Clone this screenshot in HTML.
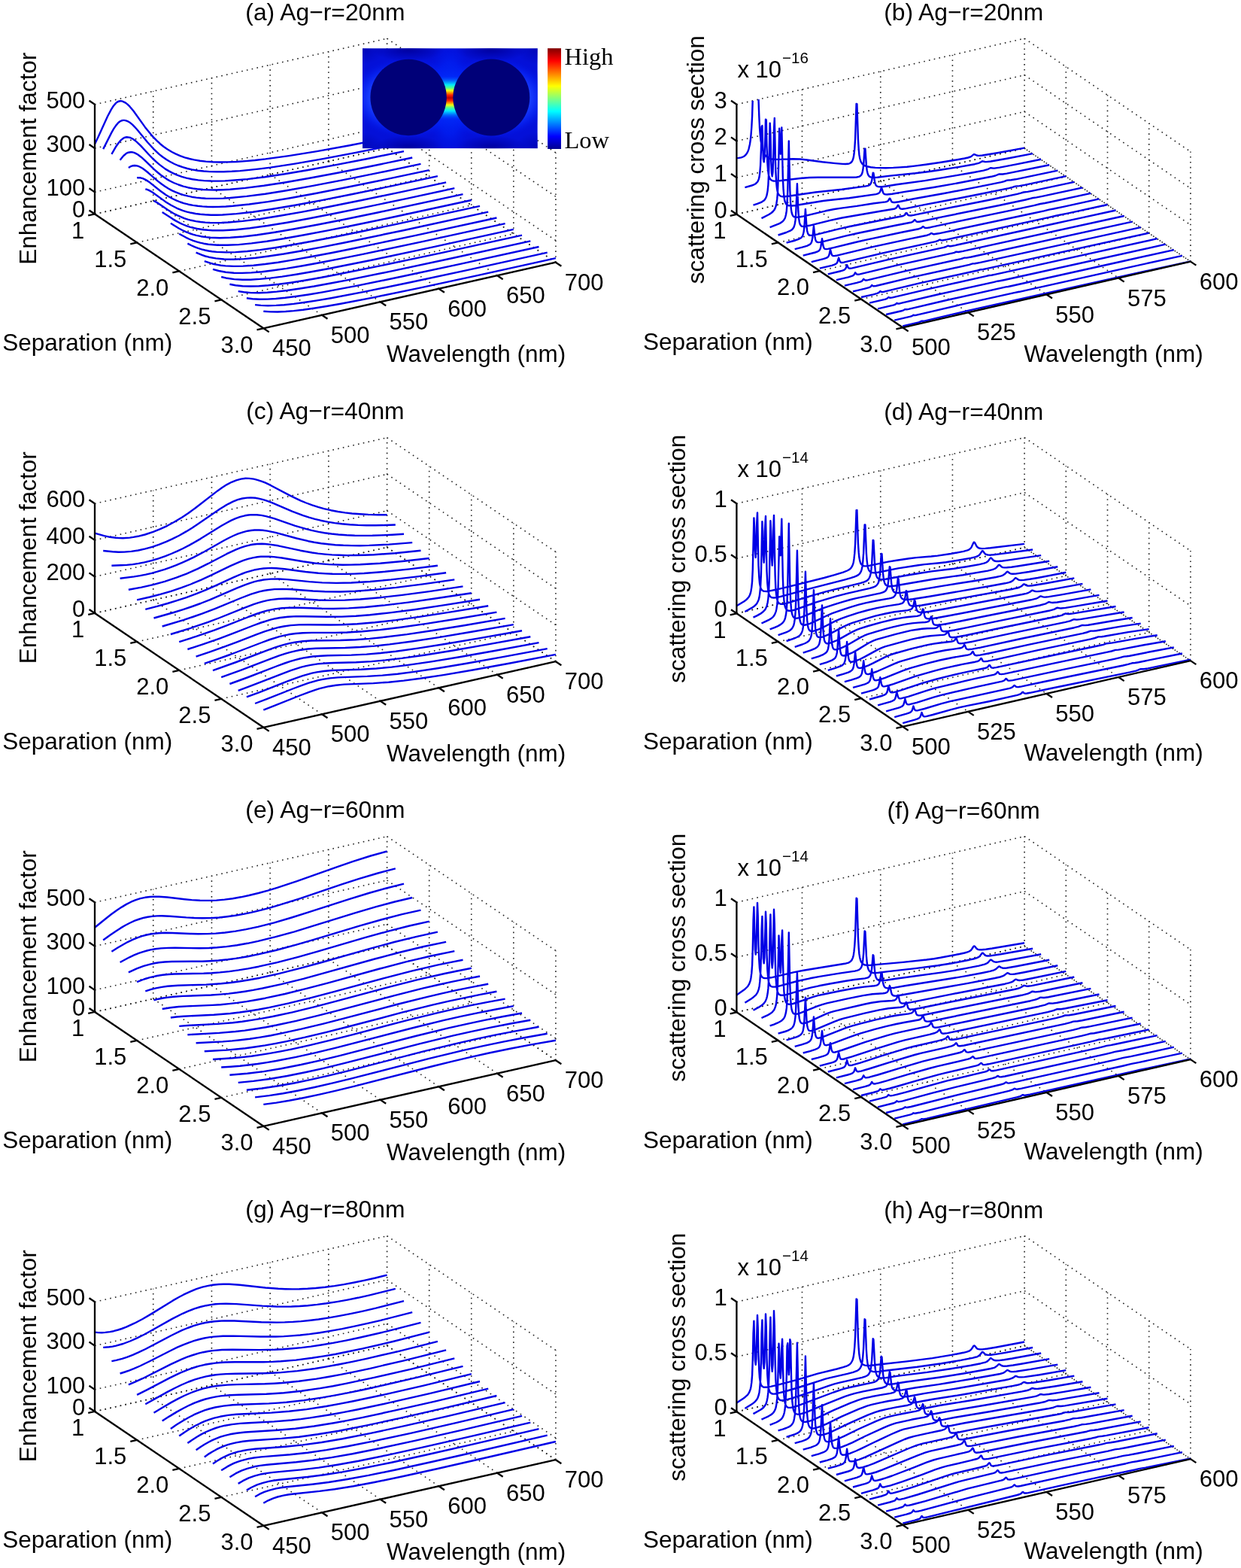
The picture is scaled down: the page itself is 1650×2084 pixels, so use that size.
<!DOCTYPE html><html><head><meta charset="utf-8"><title>Ag dimer spectra</title><style>html,body{margin:0;padding:0;background:#fff}svg{display:block}</style></head><body><svg xmlns="http://www.w3.org/2000/svg" width="1650" height="2084" viewBox="0 0 1650 2084">
<style>text{font-family:'Liberation Sans', Arial, Helvetica, sans-serif;fill:#000}.g{stroke:#222;stroke-width:1.6;stroke-dasharray:1.6 5.3;fill:none}.c{stroke:#0000e6;stroke-width:2.4;fill:none;stroke-linejoin:round;stroke-linecap:butt}</style>
<rect width="1650" height="2084" fill="#fff"/>
<line x1="203.72" y1="266.98" x2="203.72" y2="121.28" class="g"/>
<line x1="281.44" y1="249.46" x2="281.44" y2="103.76" class="g"/>
<line x1="359.16" y1="231.94" x2="359.16" y2="86.24" class="g"/>
<line x1="436.88" y1="214.42" x2="436.88" y2="68.72" class="g"/>
<line x1="514.6" y1="196.9" x2="514.6" y2="51.2" class="g"/>
<line x1="126" y1="284.5" x2="514.6" y2="196.9" class="g"/>
<line x1="126" y1="255.36" x2="514.6" y2="167.76" class="g"/>
<line x1="126" y1="197.08" x2="514.6" y2="109.48" class="g"/>
<line x1="126" y1="138.8" x2="514.6" y2="51.2" class="g"/>
<line x1="570.68" y1="234.85" x2="570.68" y2="89.15" class="g"/>
<line x1="626.75" y1="272.8" x2="626.75" y2="127.1" class="g"/>
<line x1="682.83" y1="310.75" x2="682.83" y2="165.05" class="g"/>
<line x1="738.9" y1="348.7" x2="738.9" y2="203" class="g"/>
<line x1="514.6" y1="196.9" x2="738.9" y2="348.7" class="g"/>
<line x1="514.6" y1="167.76" x2="738.9" y2="319.56" class="g"/>
<line x1="514.6" y1="109.48" x2="738.9" y2="261.28" class="g"/>
<line x1="514.6" y1="51.2" x2="738.9" y2="203" class="g"/>
<line x1="126" y1="284.5" x2="350.3" y2="436.3" class="g"/>
<line x1="203.72" y1="266.98" x2="428.02" y2="418.78" class="g"/>
<line x1="281.44" y1="249.46" x2="505.74" y2="401.26" class="g"/>
<line x1="359.16" y1="231.94" x2="583.46" y2="383.74" class="g"/>
<line x1="436.88" y1="214.42" x2="661.18" y2="366.22" class="g"/>
<line x1="738.9" y1="348.7" x2="514.6" y2="196.9" class="g"/>
<line x1="126" y1="284.5" x2="514.6" y2="196.9" class="g"/>
<line x1="182.07" y1="322.45" x2="570.68" y2="234.85" class="g"/>
<line x1="238.15" y1="360.4" x2="626.75" y2="272.8" class="g"/>
<line x1="294.23" y1="398.35" x2="682.83" y2="310.75" class="g"/>
<line x1="350.3" y1="436.3" x2="738.9" y2="348.7" class="g"/>
<path d="M126 191.5l4.7-9.7 12.4-27.3 4.7-8.9 3.1-4.9 3.1-3.6 1.5-1.2 1.6-0.9 1.5-0.5 1.6-0.2 1.6 0.1 1.5 0.4 3.1 1.5 3.1 2.3 3.1 3.1 4.7 5.6 15.5 21.6 7.8 9.7 3.1 3.5 4.7 4.8 4.6 4.3 4.7 3.8 4.7 3.3 6.2 3.7 4.7 2.4 6.2 2.7 6.2 2.2 6.2 1.7 6.2 1.4 7.8 1.3 7.8 0.9 9.3 0.7 9.3 0.2 10.9-0.1 10.9-0.4 12.4-0.9 12.5-1.1 13.9-1.6 31.1-4.3 37.3-6 43.6-7.9 49.7-9.7 M137.2 198.1l10.9-21.5 3.1-5.4 3.1-4.6 3.1-3.6 1.6-1.3 1.5-0.9 1.6-0.6 1.5-0.3 1.6 0 1.5 0.2 3.2 1.1 3.1 1.9 3.1 2.6 3.1 3.1 3.1 3.5 14 17 7.8 8.5 7.7 7.3 4.7 3.7 4.7 3.2 4.6 2.8 6.2 3.2 4.7 2 6.2 2.2 6.2 1.8 6.2 1.4 7.8 1.3 7.8 0.8 7.8 0.6 9.3 0.2 9.3-0.1 10.9-0.4 10.9-0.7 12.4-1.2 14-1.5 14-1.8 32.6-5 37.3-6.5 43.6-8.2 52.8-10.5 M148.4 204.8l6.2-10.6 3.2-4.5 3.1-3.6 3.1-2.4 1.5-0.8 1.6-0.4 1.5-0.2 3.1 0.3 1.6 0.4 3.1 1.5 3.1 2.2 3.1 2.6 4.7 4.6 10.9 11.8 4.6 4.8 4.7 4.4 4.7 4 7.7 5.7 4.7 2.8 4.7 2.5 6.2 2.7 6.2 2.2 6.2 1.8 7.8 1.6 7.8 1.2 7.7 0.7 9.4 0.4 9.3 0.1 9.3-0.2 9.3-0.6 20.2-1.7 23.4-2.9 26.4-3.9 31.1-5.3 35.7-6.6 42-8.2 49.7-10.1 M159.6 212.8l3.2-4.1 1.5-1.7 3.1-2.7 1.6-1 1.5-0.6 3.1-0.5 1.6 0 3.1 0.7 1.6 0.7 3.1 1.7 4.6 3.4 4.7 4.2 12.4 12 4.7 4.1 4.6 3.8 7.8 5.3 4.7 2.6 4.6 2.3 6.3 2.5 6.2 2.1 6.2 1.6 6.2 1.2 6.2 0.9 7.8 0.7 7.8 0.4 9.3 0.1 9.3-0.3 9.4-0.5 20.2-1.8 24.8-3.1 28-4.3 32.7-5.7 38.8-7.3 45.1-9 52.8-11 M170.9 223.1l3.1-2 1.5-0.6 3.1-0.5 3.1 0.3 1.6 0.4 3.1 1.3 3.1 1.8 3.1 2.2 4.7 3.8 12.4 10.8 4.7 3.7 4.6 3.3 4.7 2.9 4.7 2.6 4.6 2.1 6.3 2.5 4.6 1.4 6.2 1.6 4.7 1 6.2 0.9 6.2 0.7 6.3 0.4 13.9 0.2 9.4-0.3 9.3-0.6 21.8-2.1 24.8-3.2 28-4.5 34.2-6.1 40.4-7.7 48.2-9.8 56-11.7 M182.1 236.3l1.5-0.2 3.1 0.2 3.1 0.9 3.2 1.4 3.1 1.8 3.1 2.2 14 11.1 7.7 5.5 4.7 2.8 4.7 2.5 4.6 2.2 4.7 1.8 4.7 1.6 6.2 1.6 6.2 1.2 6.2 0.9 6.2 0.6 6.2 0.4 7.8 0.2 7.8-0.1 9.3-0.4 9.3-0.7 21.8-2.3 24.9-3.4 29.5-4.9 34.2-6.2 42-8.2 49.7-10.2 59.1-12.5 M193.3 251.3l1.5 0.4 3.2 1.2 4.6 2.6 17.1 12.4 7.8 4.9 7.8 4 7.7 3.1 4.7 1.4 6.2 1.5 6.2 1.2 6.2 0.8 6.3 0.5 7.7 0.4 7.8 0 7.8-0.2 18.6-1.4 21.8-2.4 26.4-3.9 29.6-5 35.7-6.7 42-8.3 51.3-10.7 60.6-12.9 M204.5 266.8l6.2 3.6 12.5 8.5 7.7 4.8 4.7 2.4 4.7 2.1 4.6 1.9 4.7 1.5 4.6 1.2 6.3 1.3 6.2 0.9 6.2 0.6 6.2 0.4 7.8 0.1 7.8-0.1 9.3-0.5 18.6-1.6 23.4-2.9 26.4-4.2 29.5-5.2 35.8-6.8 43.5-8.8 51.3-10.7 60.6-13 M215.7 282.1l14 9 4.7 2.8 4.6 2.4 4.7 2.2 4.7 1.8 4.6 1.5 4.7 1.2 6.2 1.3 6.2 0.9 6.2 0.6 6.3 0.4 13.9 0 17.1-1 18.7-2 23.3-3.2 26.4-4.3 29.6-5.4 35.7-7 43.5-8.9 51.3-10.8 62.2-13.4 M226.9 296.8l10.9 6.7 4.7 2.5 4.6 2.1 4.7 1.9 4.7 1.6 4.6 1.2 6.2 1.4 6.3 0.9 6.2 0.6 12.4 0.5 14-0.4 17.1-1.3 18.7-2.2 23.3-3.5 26.4-4.5 31.1-5.8 35.7-7 43.6-9 113.4-24.3 M238.2 310.7l9.3 5.1 4.6 2.2 4.7 1.8 4.7 1.6 4.6 1.3 4.7 1 6.2 1 6.2 0.6 6.2 0.4 12.5 0.1 15.5-0.7 17.1-1.7 20.2-2.7 23.3-3.7 26.5-4.7 31.1-5.9 35.7-7.2 43.5-9 112-24.2 M249.4 323.6l4.6 2.4 4.7 2.1 4.7 1.7 4.6 1.5 4.7 1.2 4.6 1 4.7 0.7 6.2 0.7 12.5 0.5 12.4-0.3 15.5-1.1 17.1-1.9 20.2-2.9 23.4-3.9 26.4-4.8 31.1-6 35.7-7.3 43.5-9.1 112-24.2 M260.6 335.7l7.8 3.2 4.6 1.6 4.7 1.2 9.3 1.7 10.9 1.1 12.4 0.2 14-0.6 15.6-1.4 17.1-2.2 20.2-3 23.3-4 26.4-4.9 31.1-6.1 79.3-16.5 111.9-24.3 M271.8 347.1l7.8 2.6 4.6 1.3 4.7 0.9 4.7 0.8 6.2 0.7 10.9 0.5 12.4-0.3 14-0.9 15.5-1.7 17.1-2.3 20.2-3.3 23.3-4.1 28-5.3 31.1-6.2 79.3-16.7 108.8-23.6 M283 357.8l7.8 2.2 9.3 1.7 10.9 1 10.9 0.2 12.4-0.5 14-1.2 15.5-1.9 17.1-2.4 20.2-3.4 23.4-4.2 27.9-5.4 31.1-6.3 79.3-16.7 108.8-23.7 M294.2 368l7.8 1.8 9.3 1.3 10.9 0.6 10.9 0 12.4-0.8 14-1.3 15.6-2 18.6-2.9 20.2-3.4 23.3-4.3 59.1-11.8 79.3-16.8 107.2-23.5 M305.4 377.7l7.8 1.5 9.3 1 10.9 0.3 10.9-0.3 12.4-0.9 14-1.5 15.6-2.1 18.6-2.9 20.2-3.6 23.3-4.4 59.1-11.9 79.3-16.8 107.2-23.5 M316.7 387.1l7.7 1.2 9.4 0.8 10.8 0.1 10.9-0.5 12.5-1.1 13.9-1.6 17.1-2.5 18.7-3 21.8-4 23.3-4.4 59-12 77.8-16.6 105.7-23.2 M327.9 396.3l7.7 0.9 9.4 0.5 10.8-0.1 10.9-0.6 12.5-1.2 15.5-2 15.6-2.3 18.6-3.1 45.1-8.5 59.1-12.1 77.7-16.6 105.7-23.2 M339.1 405.1l7.8 0.8 9.3 0.3 10.9-0.3 10.8-0.7 12.5-1.3 15.5-2.1 15.6-2.4 18.6-3.2 45.1-8.6 59.1-12.1 77.7-16.7 105.7-23.2 M350.3 413.8l9.3 0.6 9.4 0.1 10.8-0.5 10.9-0.9 12.4-1.4 15.6-2.2 15.5-2.5 18.7-3.3 45.1-8.6 59-12.3 77.8-16.7 104.1-22.9" class="c"/>
<line x1="126" y1="284.5" x2="126" y2="138.8" stroke="#000" stroke-width="2.3" />
<line x1="126" y1="284.5" x2="350.3" y2="436.3" stroke="#000" stroke-width="2.3" />
<line x1="350.3" y1="436.3" x2="738.9" y2="348.7" stroke="#000" stroke-width="2.3" />
<line x1="126" y1="284.5" x2="118.55" y2="279.46" stroke="#000" stroke-width="2.3" />
<text x="113.3" y="289.4" text-anchor="end" font-size="31" >0</text>
<line x1="126" y1="255.36" x2="118.55" y2="250.32" stroke="#000" stroke-width="2.3" />
<text x="113.3" y="260.26" text-anchor="end" font-size="31" >100</text>
<line x1="126" y1="197.08" x2="118.55" y2="192.04" stroke="#000" stroke-width="2.3" />
<text x="113.3" y="201.98" text-anchor="end" font-size="31" >300</text>
<line x1="126" y1="138.8" x2="118.55" y2="133.76" stroke="#000" stroke-width="2.3" />
<text x="113.3" y="143.7" text-anchor="end" font-size="31" >500</text>
<line x1="126" y1="284.5" x2="117.22" y2="286.48" stroke="#000" stroke-width="2.3" />
<text x="112.2" y="316.8" text-anchor="end" font-size="31" >1</text>
<line x1="182.07" y1="322.45" x2="173.3" y2="324.43" stroke="#000" stroke-width="2.3" />
<text x="168.27" y="354.75" text-anchor="end" font-size="31" >1.5</text>
<line x1="238.15" y1="360.4" x2="229.37" y2="362.38" stroke="#000" stroke-width="2.3" />
<text x="224.35" y="392.7" text-anchor="end" font-size="31" >2.0</text>
<line x1="294.23" y1="398.35" x2="285.45" y2="400.33" stroke="#000" stroke-width="2.3" />
<text x="280.43" y="430.65" text-anchor="end" font-size="31" >2.5</text>
<line x1="350.3" y1="436.3" x2="341.52" y2="438.28" stroke="#000" stroke-width="2.3" />
<text x="336.5" y="468.6" text-anchor="end" font-size="31" >3.0</text>
<line x1="350.3" y1="436.3" x2="357.75" y2="441.34" stroke="#000" stroke-width="2.3" />
<text x="362.1" y="473.4" text-anchor="start" font-size="31" >450</text>
<line x1="428.02" y1="418.78" x2="435.47" y2="423.82" stroke="#000" stroke-width="2.3" />
<text x="439.82" y="455.88" text-anchor="start" font-size="31" >500</text>
<line x1="505.74" y1="401.26" x2="513.19" y2="406.3" stroke="#000" stroke-width="2.3" />
<text x="517.54" y="438.36" text-anchor="start" font-size="31" >550</text>
<line x1="583.46" y1="383.74" x2="590.91" y2="388.78" stroke="#000" stroke-width="2.3" />
<text x="595.26" y="420.84" text-anchor="start" font-size="31" >600</text>
<line x1="661.18" y1="366.22" x2="668.63" y2="371.26" stroke="#000" stroke-width="2.3" />
<text x="672.98" y="403.32" text-anchor="start" font-size="31" >650</text>
<line x1="738.9" y1="348.7" x2="746.35" y2="353.74" stroke="#000" stroke-width="2.3" />
<text x="750.7" y="385.8" text-anchor="start" font-size="31" >700</text>
<text x="432.4" y="26.8" text-anchor="middle" font-size="31.8" >(a) Ag−r=20nm</text>
<text x="514" y="481.1" text-anchor="start" font-size="31.45" >Wavelength (nm)</text>
<text x="3.3" y="465.5" text-anchor="start" font-size="31.5" >Separation (nm)</text>
<text x="0" y="0" text-anchor="middle" font-size="31.5" transform="translate(47.6,210.8) rotate(-90)">Enhancement factor</text>
<defs><clipPath id="insclip"><rect x="482" y="64.2" width="232.8" height="133.1"/></clipPath><linearGradient id="hotv" x1="0" y1="0" x2="0" y2="1"><stop offset="0.26" stop-color="#0040ff" stop-opacity="0"/><stop offset="0.31" stop-color="#0070ff" stop-opacity="0.9"/><stop offset="0.355" stop-color="#00e8ff"/><stop offset="0.39" stop-color="#50ff90"/><stop offset="0.42" stop-color="#f0ff10"/><stop offset="0.445" stop-color="#ff9000"/><stop offset="0.47" stop-color="#ff2000"/><stop offset="0.5" stop-color="#b80000"/><stop offset="0.53" stop-color="#ff2000"/><stop offset="0.555" stop-color="#ff9000"/><stop offset="0.58" stop-color="#f0ff10"/><stop offset="0.61" stop-color="#50ff90"/><stop offset="0.645" stop-color="#00e8ff"/><stop offset="0.69" stop-color="#0070ff" stop-opacity="0.9"/><stop offset="0.74" stop-color="#0040ff" stop-opacity="0"/></linearGradient><radialGradient id="fan" cx="0.5" cy="0.5" r="0.5"><stop offset="0" stop-color="#0038ff"/><stop offset="0.6" stop-color="#0020f4" stop-opacity="0.7"/><stop offset="1" stop-color="#0010e0" stop-opacity="0"/></radialGradient><radialGradient id="halo" cx="0.5" cy="0.5" r="0.5"><stop offset="0.62" stop-color="#1a40ff"/><stop offset="0.8" stop-color="#0828f8" stop-opacity="0.6"/><stop offset="1" stop-color="#0010e0" stop-opacity="0"/></radialGradient><radialGradient id="dark" cx="0.5" cy="0.5" r="0.5"><stop offset="0" stop-color="#0000a0"/><stop offset="1" stop-color="#0000a0" stop-opacity="0"/></radialGradient><linearGradient id="jet" x1="0" y1="1" x2="0" y2="0"><stop offset="0" stop-color="#00008f"/><stop offset="0.125" stop-color="#0000ff"/><stop offset="0.375" stop-color="#00ffff"/><stop offset="0.625" stop-color="#ffff00"/><stop offset="0.875" stop-color="#ff0000"/><stop offset="1" stop-color="#800000"/></linearGradient></defs>
<g clip-path="url(#insclip)">
<rect x="482" y="64.2" width="232.8" height="133.1" fill="#0410d8"/>
<ellipse cx="543.1" cy="130.0" rx="82" ry="55" fill="url(#halo)"/>
<ellipse cx="543.1" cy="66" rx="48" ry="16" fill="url(#dark)"/>
<ellipse cx="543.1" cy="196" rx="48" ry="16" fill="url(#dark)"/>
<ellipse cx="653.3" cy="130.0" rx="82" ry="55" fill="url(#halo)"/>
<ellipse cx="653.3" cy="66" rx="48" ry="16" fill="url(#dark)"/>
<ellipse cx="653.3" cy="196" rx="48" ry="16" fill="url(#dark)"/>
<ellipse cx="482" cy="64" rx="30" ry="22" fill="url(#dark)" opacity="0.6"/>
<ellipse cx="714.8" cy="64" rx="30" ry="22" fill="url(#dark)" opacity="0.6"/>
<ellipse cx="482" cy="197.3" rx="30" ry="22" fill="url(#dark)" opacity="0.6"/>
<ellipse cx="714.8" cy="197.3" rx="30" ry="22" fill="url(#dark)" opacity="0.6"/>
<ellipse cx="598.0" cy="130.0" rx="34" ry="80" fill="url(#fan)"/>
<rect x="578" y="70.0" width="40" height="120" fill="url(#hotv)"/>
<circle cx="543.1" cy="129.5" r="50.7" fill="#000078"/>
<circle cx="653.3" cy="129.5" r="51" fill="#000078"/>
</g>
<rect x="728.1" y="64.2" width="17.9" height="133.8" fill="url(#jet)"/>
<text x="750.5" y="86" style="font-family:'Liberation Serif', 'Times New Roman', serif" font-size="32.5">High</text>
<text x="750.5" y="196.6" style="font-family:'Liberation Serif', 'Times New Roman', serif" font-size="32.5">Low</text>
<line x1="1066.46" y1="264.85" x2="1066.46" y2="118.85" class="g"/>
<line x1="1170.75" y1="240.95" x2="1170.75" y2="94.95" class="g"/>
<line x1="1266.42" y1="219.03" x2="1266.42" y2="73.03" class="g"/>
<line x1="1362.1" y1="197.1" x2="1362.1" y2="51.1" class="g"/>
<line x1="979.4" y1="284.8" x2="1362.1" y2="197.1" class="g"/>
<line x1="979.4" y1="236.13" x2="1362.1" y2="148.43" class="g"/>
<line x1="979.4" y1="187.47" x2="1362.1" y2="99.77" class="g"/>
<line x1="979.4" y1="138.8" x2="1362.1" y2="51.1" class="g"/>
<line x1="1417.3" y1="234.73" x2="1417.3" y2="88.73" class="g"/>
<line x1="1472.5" y1="272.35" x2="1472.5" y2="126.35" class="g"/>
<line x1="1527.7" y1="309.98" x2="1527.7" y2="163.98" class="g"/>
<line x1="1582.9" y1="347.6" x2="1582.9" y2="201.6" class="g"/>
<line x1="1362.1" y1="197.1" x2="1582.9" y2="347.6" class="g"/>
<line x1="1362.1" y1="148.43" x2="1582.9" y2="298.93" class="g"/>
<line x1="1362.1" y1="99.77" x2="1582.9" y2="250.27" class="g"/>
<line x1="1362.1" y1="51.1" x2="1582.9" y2="201.6" class="g"/>
<line x1="979.4" y1="284.8" x2="1200.2" y2="435.3" class="g"/>
<line x1="1066.46" y1="264.85" x2="1287.26" y2="415.35" class="g"/>
<line x1="1170.75" y1="240.95" x2="1391.55" y2="391.45" class="g"/>
<line x1="1266.42" y1="219.03" x2="1487.22" y2="369.52" class="g"/>
<line x1="1582.9" y1="347.6" x2="1362.1" y2="197.1" class="g"/>
<line x1="979.4" y1="284.8" x2="1362.1" y2="197.1" class="g"/>
<line x1="1034.6" y1="322.43" x2="1417.3" y2="234.73" class="g"/>
<line x1="1089.8" y1="360.05" x2="1472.5" y2="272.35" class="g"/>
<line x1="1145" y1="397.68" x2="1527.7" y2="309.98" class="g"/>
<line x1="1200.2" y1="435.3" x2="1582.9" y2="347.6" class="g"/>
<path d="M979.4 210.1l3.1-0.2 3-0.5 2.3-0.9 2.3-1.3 1.5-1.5 1.6-2.1 1.5-3.2 0.8-2.3 1.5-6.7 0.8-5.1 0.7-7 0.8-10.2 0.8-15.1 0.6-20.1 M1008.5 132.1l0.8 22.3 0.7 15.2 0.8 10.2 0.7 7.1 1.6 9 0.7 3 1.6 4.1 0.7 1.5 1.6 2.2 1.5 1.5 2.3 1.5 2.3 1 2.3 0.5 3.8 0.5 3.8 0.2 20.7-0.7 9.2 0.3 9.2 1 20.6 2.8 17.6 1.8 9.2 0.8 3.9 0.1 3-0.2 2.3-0.5 1.5-0.8 1.6-1.5 0.7-1.2 0.8-1.8 0.8-2.8 0.7-4.4 0.8-7.5 0.8-12.9 1.5-46.5 0.8 0.2 1.5 46.8 0.8 13.2 0.7 7.6 0.8 4.6 0.8 2.9 0.7 2 1.6 2.5 1.5 1.4 1.5 0.9 3.8 1.3 4.6 0.9 6.2 0.7 6.1 0.2 7.6 0.1 10-0.3 9.2-0.5 9.2-0.7 9.9-1.1 14.6-1.9 20.6-3 18.4-2.9 13-2.3 4.6-1 3.1-1 1.5-0.8 3-2.5 0.8-0.1 3.1 1.4 1.5 0.3 2.3 0.1 3.8-0.4 19.9-3.3 36-6.6 M990.4 249.1l9.2-2.6 2.3-0.8 2.3-1.2 1.5-1.2 1.6-1.8 0.7-1.4 0.8-2 0.8-3.2 0.7-5.3 0.8-10 0.8-20 0.7-31.2 0.8-1.4 0.8 28.3 0.7 16.1 0.8 3.9 0.8-5.8 0.7-18.8 0.8-32.1 0.8 1 0.7 34.2 0.8 21.8 0.8 10.7 0.7 5.6 0.8 3.1 0.8 1.9 0.7 1.2 1.5 1.4 1.6 0.7 1.5 0.3 3.1 0.1 4.6-0.3 27.5-3.3 12.3-1 11.4-0.2 46.7-0.1 4.6-0.2 3.1-0.6 1.5-0.7 1.6-1.5 0.7-1.3 0.8-2.1 0.7-3.5 0.8-6.2 1.5-22 0.8 0.1 1.5 22.5 0.8 6.3 0.8 3.6 0.7 2.1 0.8 1.3 0.8 0.9 0.7 0.5 1.6 0.7 3 0.4 5.4-0.3 16.8-2.1 33.7-3.3 16.8-2.1 18.4-2.7 24.5-3.9 19.1-3.4 5.4-1.4 1.5-0.6 3.1-1.8 0.8-0.1 3 0.7 1.5 0.1 6.2-0.6 21.4-3.8 34.4-6.6 M1001.5 272.6l5.3-1.7 3.9-1.5 2.3-1.1 2.3-1.5 1.5-1.5 1.5-2.5 0.8-1.9 0.7-2.8 0.8-4.5 0.8-7.8 0.7-15 1.6-67.2 0.7 14.4 0.8 34.9 0.8 17.2 0.7 4.3 0.8-5.5 0.8-18.8 0.7-37.4 0.8-15.7 1.5 69.7 0.8 15.4 0.8 7.8 0.7 4.2 0.8 2.6 0.8 1.6 1.5 1.7 1.5 0.8 1.5 0.4 3.1 0.1 5.4-0.5 35.9-5.3 35.3-3.8 30.6-4.1 3.8-0.7 1.5-0.5 1.6-1.1 0.7-1.1 0.8-1.7 0.8-2.9 1.5-10 0.7 0.4 1.6 11.2 0.7 3 0.8 1.7 0.8 1 0.7 0.6 1.6 0.6 2.3 0.2 3-0.1 5.4-0.7 13.8-2.2 37.5-5.2 40.5-6.7 23.8-4.2 13.7-2.6 5.4-1.4 3.8-1.9 0.8-0.1 3.1 0.4 1.5 0 6.9-1 22.2-4.2 32.9-6.7 M1012.5 290.1l10-5.1 3-2 2.3-2 1.6-1.9 1.5-3 0.8-2.4 0.7-3.4 0.8-5.4 0.8-9.4 0.7-18.3 1.5-66.4 1.6 33.9 1.5-35.2 1.5 65.1 0.8 17.6 0.8 8.8 0.7 4.8 0.8 2.8 0.8 1.7 0.7 1.2 0.8 0.7 1.5 0.8 1.6 0.3 3.8 0.2 4.6-0.5 36.7-6 8.4-1 26.1-2.7 35.9-5.2 3.1-0.9 1.5-1.3 0.8-1.3 1.5-4.4 0.8 0.3 1.5 5.2 0.8 1.4 0.8 0.7 1.5 0.6 2.3 0.1 6.9-0.7 16.8-2.9 38.3-5.9 35.2-6.2 41.3-8 5.4-1.3 4.6-1.9 0.7-0.2 4.6 0.1 5.4-0.9 56.6-11.4 M1023.6 302.2l11.4-4.5 3.1-1.6 2.3-1.6 1.5-1.6 1.6-2.5 0.7-2.1 0.8-3 0.8-5.1 0.7-9.2 0.8-18.2 1.5-65.4 1.5 64.4 0.8 17.6 0.8 8.7 0.7 4.5 0.8 2.5 0.8 1.6 0.7 0.9 0.8 0.6 0.8 0.3 1.5 0.3 3.1-0.1 5.3-0.9 31.4-7.5 11.5-2.3 9.2-1.4 20.6-2.7 23-3.6 15.3-1.9 1.5-0.4 1.6-0.8 0.7-0.8 1.6-2.7 0.7 0.3 1.6 3.5 0.7 0.9 0.8 0.4 1.5 0.2 1.6 0 5.3-0.8 19.9-4 39-6.9 49-9.4 28.4-5.8 3.8-1 3.8-1.5 5.4-0.3 6.1-1 55.9-11.6 M1034.6 312.5l10.7-3.5 5.4-2.3 1.5-0.9 1.5-1.3 1.6-2.2 0.7-1.8 0.8-3 0.8-5.3 0.7-10.5 1.6-37.6 1.5 36.6 0.8 10 0.7 4.9 0.8 2.5 0.8 1.3 0.7 0.8 0.8 0.5 2.3 0.3 3-0.3 4.6-0.9 29.1-7.2 14.6-3.1 52-9 16.8-2.7 1.6-0.5 1.5-0.9 0.8-0.9 1.5-2.8 0.8 0.2 1.5 3.4 0.8 0.8 0.7 0.4 2.3 0.2 4.6-0.6 24.5-5 39-7.3 39.8-7.8 33.7-6.9 4.6-1.2 3.8-1.3 5.4-0.5 6.9-1.2 55.1-11.7 M1045.6 322.7l10-2.7 6.1-2.1 3.1-1.6 1.5-1.5 0.8-1.2 0.7-1.9 0.8-3.4 0.8-6.7 1.5-23.7 1.5 22.8 0.8 6.3 0.8 2.9 0.7 1.5 0.8 0.8 1.5 0.7 2.3 0 7.7-1.5 26.8-6.8 16-3.6 49-9.8 20.7-3.9 1.5-0.5 1.5-0.8 0.8-0.7 1.5-2.3 0.8 0.1 1.5 2.5 0.8 0.6 0.8 0.2 2.3 0.1 3.8-0.6 29.1-6.1 72.7-14.3 36-7.6 4.6-1.2 3.8-1.2 5.3-0.6 7.7-1.5 54.3-11.6 M1056.7 331.2l9.9-2.6 6.2-1.8 3-1.4 1.5-1 0.8-0.9 0.8-1.3 0.7-2.3 0.8-4.4 1.5-15.4 1.6 14.6 0.7 3.9 0.8 1.9 0.8 0.9 0.7 0.4 1.6 0.3 2.3-0.2 6.8-1.5 26.8-6.7 16.1-3.7 49.8-10.2 20.6-4 1.6-0.5 1.5-0.7 0.8-0.6 1.5-1.8 0.7 0.1 1.6 1.9 0.7 0.4 0.8 0.2 2.3-0.1 3.8-0.7 29.1-6.1 73.5-14.9 35.2-7.5 8.4-2.2 6.1-0.9 7.7-1.5 53.6-11.6 M1067.7 339.7l16.1-4.2 3.1-1.1 2.3-1.5 0.7-0.9 0.8-1.5 0.7-3 1.6-10.2 1.5 9.4 0.8 2.5 0.7 1.1 0.8 0.6 1.5 0.2 2.3-0.2 7.7-1.7 29.1-7.2 13.7-3.2 49-10.3 21.5-4.3 3-1 0.8-0.5 1.5-1.5 0.8 0 1.5 1.4 1.6 0.4 2.2-0.1 3.9-0.7 29.1-6.3 75.7-15.7 32.9-7 8.5-2.2 6.1-1 8.4-1.7 52.8-11.4 M1078.8 348.2l16-4 3.1-1 2.3-1.1 0.8-0.7 0.7-1 0.8-2 1.5-6.8 1.5 6 0.8 1.6 0.8 0.6 0.7 0.3 1.6 0 2.3-0.3 49.7-11.9 47.5-10.3 23.7-4.9 3.1-1 2.3-1.6 0.7-0.1 1.6 1 1.5 0.3 6.1-1 123.2-26.3 16.9-3.7 6.9-1.7 6.1-1.1 13.8-2.9 46.7-10.2 M1089.8 356.7l16.1-3.9 3-0.9 2.3-1 1.6-1.4 0.7-1.6 1.6-5.3 1.5 4.6 0.8 1.1 0.7 0.5 0.8 0.2 3-0.3 50.6-12 71.1-15.5 3.1-1 2.3-1.4 0.8-0.1 1.5 0.7 1.5 0.1 6.2-1.1 134.7-29.2 11.4-2.7 15.4-3.1 52-11.4 M1100.8 364.4l16.1-3.9 3.1-0.8 2.3-0.9 1.5-1.2 0.8-1.3 1.5-4.2 1.5 3.4 0.8 0.9 1.5 0.4 3.1-0.4 49.7-11.8 72-15.7 3-0.9 2.3-1.2 0.8-0.1 1.5 0.5 1.6 0 6.1-1.1 135.5-29.6 10.7-2.4 17.6-3.7 49.7-10.9 M1111.9 372.1l16.1-3.8 5.3-1.6 1.5-0.9 0.8-0.8 1.5-2.8 1.6 2 0.7 0.4 1.6 0.2 2.3-0.4 48.9-11.7 74.3-16.3 2.3-0.6 2.3-1.1 0.7-0.1 2.3 0.4 6.2-1.1 214.3-46.9 M1122.9 379.7l16.1-3.8 5.4-1.5 1.5-0.7 0.7-0.7 1.6-2.2 1.5 1.4 0.8 0.3 1.5 0 2.3-0.4 49-11.7 74.2-16.3 2.3-0.6 2.3-0.9 3.1 0 6.1-1.1 214.3-46.9 M1134 387.4l16-3.8 5.4-1.4 1.5-0.7 0.8-0.6 1.5-1.9 1.5 1.1 0.8 0.2 3.1-0.3 45.1-10.8 78.9-17.4 4.6-1.4 3-0.1 6.1-1.2 214.4-47 M1145 395l16.1-3.7 5.3-1.4 1.6-0.7 0.7-0.5 1.6-1.7 1.5 0.9 0.8 0.2 3-0.4 45.9-11 78.1-17.2 4.6-1.3 3.1-0.2 5.3-1.1 215.1-47.3 M1156 402.7l21.5-5.1 2.3-1.1 1.5-1.5 1.5 0.7 0.8 0.1 3.1-0.4 46.6-11.1 77.4-17.1 4.5-1.2 3.1-0.3 5.4-1.1 215-47.4 M1167.1 410.4l21.4-5.1 2.3-1 1.5-1.3 1.6 0.5 0.7 0.1 2.3-0.4 47.5-11.2 77.3-17.2 4.6-1.1 3-0.4 5.4-1.1 215.1-47.5 M1178.1 418l21.5-5 2.2-0.9 1.6-1 2.3 0.2 2.3-0.4 48.2-11.4 81.1-18.1 3.1-0.4 4.6-1 148.5-33 67.3-14.8 M1189.2 425.7l21.4-5 2.3-0.9 1.5-1 2.3 0.3 2.3-0.5 57.4-13.4 72-16.1 6.9-1.3 149.2-33.2 67.4-14.8 M1200.2 433.4l21.4-5.1 2.3-0.8 1.6-0.9 2.3 0.2 2.3-0.5 55.8-13.1 216.6-48.2 80.4-17.7" class="c"/>
<line x1="979.4" y1="284.8" x2="979.4" y2="138.8" stroke="#000" stroke-width="2.3" />
<line x1="979.4" y1="284.8" x2="1200.2" y2="435.3" stroke="#000" stroke-width="2.3" />
<line x1="1200.2" y1="435.3" x2="1582.9" y2="347.6" stroke="#000" stroke-width="2.3" />
<line x1="979.4" y1="284.8" x2="971.96" y2="279.73" stroke="#000" stroke-width="2.3" />
<text x="966.7" y="289.7" text-anchor="end" font-size="31" >0</text>
<line x1="979.4" y1="236.13" x2="971.96" y2="231.06" stroke="#000" stroke-width="2.3" />
<text x="966.7" y="241.03" text-anchor="end" font-size="31" >1</text>
<line x1="979.4" y1="187.47" x2="971.96" y2="182.4" stroke="#000" stroke-width="2.3" />
<text x="966.7" y="192.37" text-anchor="end" font-size="31" >2</text>
<line x1="979.4" y1="138.8" x2="971.96" y2="133.73" stroke="#000" stroke-width="2.3" />
<text x="966.7" y="143.7" text-anchor="end" font-size="31" >3</text>
<line x1="979.4" y1="284.8" x2="970.63" y2="286.81" stroke="#000" stroke-width="2.3" />
<text x="965.6" y="317.1" text-anchor="end" font-size="31" >1</text>
<line x1="1034.6" y1="322.43" x2="1025.83" y2="324.44" stroke="#000" stroke-width="2.3" />
<text x="1020.8" y="354.73" text-anchor="end" font-size="31" >1.5</text>
<line x1="1089.8" y1="360.05" x2="1081.03" y2="362.06" stroke="#000" stroke-width="2.3" />
<text x="1076" y="392.35" text-anchor="end" font-size="31" >2.0</text>
<line x1="1145" y1="397.68" x2="1136.23" y2="399.69" stroke="#000" stroke-width="2.3" />
<text x="1131.2" y="429.98" text-anchor="end" font-size="31" >2.5</text>
<line x1="1200.2" y1="435.3" x2="1191.43" y2="437.31" stroke="#000" stroke-width="2.3" />
<text x="1186.4" y="467.6" text-anchor="end" font-size="31" >3.0</text>
<line x1="1200.2" y1="435.3" x2="1207.64" y2="440.37" stroke="#000" stroke-width="2.3" />
<text x="1212" y="472.4" text-anchor="start" font-size="31" >500</text>
<line x1="1287.26" y1="415.35" x2="1294.7" y2="420.42" stroke="#000" stroke-width="2.3" />
<text x="1299.06" y="452.45" text-anchor="start" font-size="31" >525</text>
<line x1="1391.55" y1="391.45" x2="1398.99" y2="396.52" stroke="#000" stroke-width="2.3" />
<text x="1403.35" y="428.55" text-anchor="start" font-size="31" >550</text>
<line x1="1487.22" y1="369.52" x2="1494.66" y2="374.59" stroke="#000" stroke-width="2.3" />
<text x="1499.02" y="406.62" text-anchor="start" font-size="31" >575</text>
<line x1="1582.9" y1="347.6" x2="1590.34" y2="352.67" stroke="#000" stroke-width="2.3" />
<text x="1594.7" y="384.7" text-anchor="start" font-size="31" >600</text>
<text x="1281.2" y="27" text-anchor="middle" font-size="31.8" >(b) Ag−r=20nm</text>
<text x="1361.5" y="480.5" text-anchor="start" font-size="31.45" >Wavelength (nm)</text>
<text x="855" y="465" text-anchor="start" font-size="31.5" >Separation (nm)</text>
<text x="0" y="0" text-anchor="middle" font-size="31.6" transform="translate(936.2,212.2) rotate(-90)">scattering cross section</text>
<text x="980.5" y="103.4" font-size="31">x 10<tspan font-size="20.5" dx="1" dy="-19.4">−16</tspan></text>
<line x1="203.72" y1="797.48" x2="203.72" y2="651.78" class="g"/>
<line x1="281.44" y1="779.96" x2="281.44" y2="634.26" class="g"/>
<line x1="359.16" y1="762.44" x2="359.16" y2="616.74" class="g"/>
<line x1="436.88" y1="744.92" x2="436.88" y2="599.22" class="g"/>
<line x1="514.6" y1="727.4" x2="514.6" y2="581.7" class="g"/>
<line x1="126" y1="815" x2="514.6" y2="727.4" class="g"/>
<line x1="126" y1="766.43" x2="514.6" y2="678.83" class="g"/>
<line x1="126" y1="717.87" x2="514.6" y2="630.27" class="g"/>
<line x1="126" y1="669.3" x2="514.6" y2="581.7" class="g"/>
<line x1="570.68" y1="765.35" x2="570.68" y2="619.65" class="g"/>
<line x1="626.75" y1="803.3" x2="626.75" y2="657.6" class="g"/>
<line x1="682.83" y1="841.25" x2="682.83" y2="695.55" class="g"/>
<line x1="738.9" y1="879.2" x2="738.9" y2="733.5" class="g"/>
<line x1="514.6" y1="727.4" x2="738.9" y2="879.2" class="g"/>
<line x1="514.6" y1="678.83" x2="738.9" y2="830.63" class="g"/>
<line x1="514.6" y1="630.27" x2="738.9" y2="782.07" class="g"/>
<line x1="514.6" y1="581.7" x2="738.9" y2="733.5" class="g"/>
<line x1="126" y1="815" x2="350.3" y2="966.8" class="g"/>
<line x1="203.72" y1="797.48" x2="428.02" y2="949.28" class="g"/>
<line x1="281.44" y1="779.96" x2="505.74" y2="931.76" class="g"/>
<line x1="359.16" y1="762.44" x2="583.46" y2="914.24" class="g"/>
<line x1="436.88" y1="744.92" x2="661.18" y2="896.72" class="g"/>
<line x1="738.9" y1="879.2" x2="514.6" y2="727.4" class="g"/>
<line x1="126" y1="815" x2="514.6" y2="727.4" class="g"/>
<line x1="182.07" y1="852.95" x2="570.68" y2="765.35" class="g"/>
<line x1="238.15" y1="890.9" x2="626.75" y2="803.3" class="g"/>
<line x1="294.23" y1="928.85" x2="682.83" y2="841.25" class="g"/>
<line x1="350.3" y1="966.8" x2="738.9" y2="879.2" class="g"/>
<path d="M126 708.7l12.4 3.4 7.8 1.7 7.8 1 4.6 0.3 4.7 0.1 9.3-0.6 4.7-0.7 6.2-1.1 9.3-2.3 10.9-3.6 9.3-3.7 9.4-4.4 9.3-5 10.9-6.6 7.8-5.2 9.3-6.8 29.5-22.8 6.2-4.4 6.2-3.9 6.3-3.3 6.2-2.5 6.2-1.7 6.2-0.8 4.7 0.1 6.2 0.7 4.7 1.2 6.2 2 4.6 1.9 6.3 3 26.4 13.9 14 6.7 7.7 3.2 7.8 2.9 7.8 2.5 7.8 2.2 9.3 2.1 9.3 1.8 9.3 1.4 9.4 1.1 10.8 0.8 10.9 0.6 12.5 0.3 12.4 0 M137.2 732l12.5 1.2 7.7 0.5 7.8-0.1 9.3-0.7 9.3-1.4 9.4-2.1 9.3-2.6 9.3-3.2 9.4-3.7 7.7-3.5 9.4-4.7 9.3-5.3 7.7-4.7 7.8-5.1 29.6-20.3 6.2-3.9 4.6-2.6 6.3-3.1 6.2-2.5 6.2-1.7 6.2-0.9 4.7-0.2 6.2 0.4 4.7 0.8 6.2 1.5 4.6 1.5 6.2 2.3 28 11.9 14 5.3 7.8 2.5 7.8 2.2 7.7 1.9 9.4 1.9 9.3 1.5 9.3 1.2 10.9 1 10.9 0.6 10.9 0.3 12.4 0.1 12.4-0.3 14-0.5 M148.4 751.7l12.5-0.4 7.7-0.4 7.8-0.8 7.8-1.2 7.8-1.5 9.3-2.3 9.3-2.8 9.3-3.2 7.8-3.1 7.8-3.3 7.7-3.7 9.4-4.9 14-8 27.9-17.3 6.3-3.6 6.2-3.3 6.2-2.8 6.2-2.2 6.2-1.6 4.7-0.8 4.7-0.4 6.2 0.1 6.2 0.7 6.2 1.3 10.9 3 28 9.6 14 4.1 7.7 2 9.4 2 7.7 1.3 9.4 1.3 9.3 1 10.9 0.8 10.8 0.5 10.9 0.1 12.5-0.1 12.4-0.4 14-0.7 15.5-1 M159.6 768.7l18.7-2.3 7.8-1.3 7.7-1.5 7.8-1.8 7.8-2.1 9.3-2.9 7.8-2.7 7.8-3 7.7-3.2 7.8-3.5 7.8-3.8 14-7.4 26.4-14.9 6.2-3.3 6.2-3 6.2-2.6 6.3-2.1 6.2-1.6 4.6-0.7 4.7-0.5 6.2 0 4.7 0.3 6.2 0.8 10.9 2.3 28 7.6 15.5 3.7 7.8 1.5 9.3 1.5 9.3 1.1 9.4 0.9 10.8 0.6 10.9 0.3 10.9 0.1 12.4-0.3 26.5-1.3 31-2.5 M170.9 783.7l17.1-3.1 15.5-3.4 15.5-4.3 15.6-5.2 14-5.4 14-6.2 14-6.9 24.8-13 12.5-5.9 6.2-2.4 6.2-2 6.2-1.6 4.7-0.8 4.6-0.5 6.3-0.2 4.6 0.2 6.2 0.6 10.9 1.7 29.6 6.4 15.5 2.8 7.8 1.1 9.3 1 9.3 0.8 9.4 0.4 10.8 0.3 10.9-0.1 12.4-0.3 12.5-0.5 28-2 34.2-3.4 M182.1 797.3l17.1-3.8 14-3.6 14-4.1 13.9-4.6 12.5-4.7 14-5.9 12.4-5.7 26.4-12.8 10.9-4.8 6.2-2.4 6.2-2 6.3-1.5 6.2-1.1 4.6-0.5 6.3-0.2 4.6 0.1 6.2 0.4 10.9 1.4 28 4.8 15.5 2.2 9.4 0.9 9.3 0.7 18.6 0.6 10.9-0.1 12.5-0.3 26.4-1.6 29.5-2.7 35.8-4 M193.3 809.8l15.5-3.9 14-3.9 12.5-3.8 12.4-4.1 14-5.2 12.4-5.1 12.5-5.5 23.3-10.7 10.9-4.6 6.2-2.3 6.2-1.9 6.2-1.6 6.2-1.1 4.7-0.6 6.2-0.4 4.7-0.1 6.2 0.3 10.9 1 27.9 3.7 17.1 1.8 9.4 0.6 9.3 0.4 18.6 0.1 10.9-0.3 12.5-0.6 27.9-2.2 32.7-3.4 37.3-4.6 M204.5 821.5l26.4-7.5 12.5-3.9 10.8-3.6 12.5-4.5 12.4-4.9 35.8-15.5 10.8-4.3 6.3-2.2 6.2-1.9 6.2-1.5 6.2-1.2 9.3-0.9 10.9-0.1 10.9 0.6 29.5 3 17.1 1.3 18.7 0.5 20.2-0.4 24.9-1.5 27.9-2.6 32.7-3.8 40.4-5.4 M215.7 832.5l28-8.4 12.4-4.1 12.5-4.3 17.1-6.5 34.2-14.2 14-5.3 10.8-3.3 6.3-1.4 4.6-0.8 9.3-1.1 10.9-0.2 10.9 0.4 29.5 2.2 15.6 0.8 20.2 0.2 20.2-0.8 24.9-1.8 29.5-3 35.8-4.5 41.9-6 M226.9 843l26.5-8.2 23.3-8 15.5-5.8 32.7-13.2 12.4-4.7 6.2-2 6.2-1.8 6.3-1.4 4.6-0.8 9.3-1.1 10.9-0.5 12.5 0.3 29.5 1.7 15.5 0.4 20.2-0.3 20.2-1.1 26.5-2.3 29.5-3.3 35.8-4.8 45-6.7 M238.2 853.2l23.3-7.5 23.3-8.1 17.1-6.4 29.5-11.7 10.9-4 6.2-2 6.2-1.8 10.9-2.3 9.3-1.2 10.9-0.6 12.5 0.1 29.5 1.1 15.5 0.2 20.2-0.6 21.8-1.4 26.4-2.6 31.1-3.8 37.3-5.3 46.7-7.1 M249.4 863l20.2-6.6 21.7-7.6 17.1-6.4 28-10.9 10.9-4 12.4-3.8 6.2-1.5 6.3-1.2 10.8-1.3 10.9-0.6 10.9 0.1 29.5 0.6 20.2-0.2 18.7-0.9 18.7-1.4 26.4-2.9 32.6-4.2 38.9-5.8 48.2-7.6 M260.6 872.6l18.6-6.3 20.2-7.1 15.6-5.8 26.4-10.3 10.9-3.9 12.4-3.9 6.2-1.6 6.3-1.2 9.3-1.4 10.9-0.7 12.4-0.2 29.5 0.3 15.6-0.2 20.2-1 23.3-2 28-3.2 32.6-4.5 40.4-6.2 49.8-8.1 M271.8 881.9l15.5-5.3 18.7-6.6 42-16 10.8-4 12.5-3.8 6.2-1.6 6.2-1.3 9.3-1.3 9.4-0.8 12.4-0.3 31.1 0 15.5-0.4 20.2-1.2 23.4-2.2 27.9-3.4 34.2-4.8 42-6.7 51.3-8.6 M283 891.1l31.1-11.1 40.4-15.4 10.9-3.9 7.8-2.6 6.2-1.7 6.2-1.5 6.2-1.2 10.9-1.5 10.9-0.7 38.8-0.5 20.2-0.8 18.7-1.3 20.2-2.1 29.5-3.7 34.2-5.1 42-6.8 54.4-9.3 M294.2 900.1l26.4-9.5 40.5-15.5 10.8-3.9 7.8-2.6 6.2-1.8 6.3-1.5 6.2-1.3 10.9-1.5 10.8-0.8 38.9-0.7 20.2-1 18.7-1.4 20.2-2.2 29.5-3.9 35.7-5.4 43.6-7.3 55.9-9.7 M305.4 909l23.4-8.5 38.8-15 10.9-4 7.8-2.6 6.2-1.8 6.2-1.6 6.2-1.3 10.9-1.7 10.9-0.8 9.3-0.4 31.1-0.7 20.2-1 18.7-1.6 20.2-2.3 29.5-4.1 35.7-5.6 45.1-7.6 57.5-10.2 M316.7 917.8l18.6-6.9 38.9-15.1 12.4-4.6 7.8-2.6 6.2-1.9 6.2-1.5 6.2-1.3 9.4-1.5 10.8-0.9 10.9-0.5 29.5-0.8 20.3-1.1 18.6-1.7 21.8-2.5 29.5-4.2 37.3-6 45.1-7.8 59.1-10.7 M327.9 926.4l17.1-6.3 37.3-14.7 12.4-4.6 7.8-2.6 6.2-1.9 6.2-1.6 6.2-1.3 9.4-1.4 10.8-1 9.4-0.4 29.5-0.9 20.2-1.2 20.2-1.9 21.8-2.7 31.1-4.5 37.3-6.2 46.6-8.2 59.1-10.9 M339.1 935l15.5-5.8 35.8-14.2 12.4-4.7 7.8-2.6 6.2-1.9 6.2-1.6 6.2-1.3 9.4-1.5 10.8-1 38.9-1.5 20.2-1.3 20.2-1.9 21.8-2.8 31.1-4.6 37.3-6.3 48.2-8.6 60.6-11.3 M350.3 943.6l14-5.4 34.2-13.7 12.4-4.7 7.8-2.7 6.2-1.9 6.2-1.6 6.2-1.4 9.4-1.5 10.9-1.1 38.8-1.5 20.2-1.4 20.2-2.1 21.8-2.8 31.1-4.7 38.8-6.6 48.2-8.8 62.2-11.8" class="c"/>
<line x1="126" y1="815" x2="126" y2="669.3" stroke="#000" stroke-width="2.3" />
<line x1="126" y1="815" x2="350.3" y2="966.8" stroke="#000" stroke-width="2.3" />
<line x1="350.3" y1="966.8" x2="738.9" y2="879.2" stroke="#000" stroke-width="2.3" />
<line x1="126" y1="815" x2="118.55" y2="809.96" stroke="#000" stroke-width="2.3" />
<text x="113.3" y="819.9" text-anchor="end" font-size="31" >0</text>
<line x1="126" y1="766.43" x2="118.55" y2="761.39" stroke="#000" stroke-width="2.3" />
<text x="113.3" y="771.33" text-anchor="end" font-size="31" >200</text>
<line x1="126" y1="717.87" x2="118.55" y2="712.82" stroke="#000" stroke-width="2.3" />
<text x="113.3" y="722.77" text-anchor="end" font-size="31" >400</text>
<line x1="126" y1="669.3" x2="118.55" y2="664.26" stroke="#000" stroke-width="2.3" />
<text x="113.3" y="674.2" text-anchor="end" font-size="31" >600</text>
<line x1="126" y1="815" x2="117.22" y2="816.98" stroke="#000" stroke-width="2.3" />
<text x="112.2" y="847.3" text-anchor="end" font-size="31" >1</text>
<line x1="182.07" y1="852.95" x2="173.3" y2="854.93" stroke="#000" stroke-width="2.3" />
<text x="168.27" y="885.25" text-anchor="end" font-size="31" >1.5</text>
<line x1="238.15" y1="890.9" x2="229.37" y2="892.88" stroke="#000" stroke-width="2.3" />
<text x="224.35" y="923.2" text-anchor="end" font-size="31" >2.0</text>
<line x1="294.23" y1="928.85" x2="285.45" y2="930.83" stroke="#000" stroke-width="2.3" />
<text x="280.43" y="961.15" text-anchor="end" font-size="31" >2.5</text>
<line x1="350.3" y1="966.8" x2="341.52" y2="968.78" stroke="#000" stroke-width="2.3" />
<text x="336.5" y="999.1" text-anchor="end" font-size="31" >3.0</text>
<line x1="350.3" y1="966.8" x2="357.75" y2="971.84" stroke="#000" stroke-width="2.3" />
<text x="362.1" y="1003.9" text-anchor="start" font-size="31" >450</text>
<line x1="428.02" y1="949.28" x2="435.47" y2="954.32" stroke="#000" stroke-width="2.3" />
<text x="439.82" y="986.38" text-anchor="start" font-size="31" >500</text>
<line x1="505.74" y1="931.76" x2="513.19" y2="936.8" stroke="#000" stroke-width="2.3" />
<text x="517.54" y="968.86" text-anchor="start" font-size="31" >550</text>
<line x1="583.46" y1="914.24" x2="590.91" y2="919.28" stroke="#000" stroke-width="2.3" />
<text x="595.26" y="951.34" text-anchor="start" font-size="31" >600</text>
<line x1="661.18" y1="896.72" x2="668.63" y2="901.76" stroke="#000" stroke-width="2.3" />
<text x="672.98" y="933.82" text-anchor="start" font-size="31" >650</text>
<line x1="738.9" y1="879.2" x2="746.35" y2="884.24" stroke="#000" stroke-width="2.3" />
<text x="750.7" y="916.3" text-anchor="start" font-size="31" >700</text>
<text x="432.4" y="557.3" text-anchor="middle" font-size="31.8" >(c) Ag−r=40nm</text>
<text x="514" y="1011.6" text-anchor="start" font-size="31.45" >Wavelength (nm)</text>
<text x="3.3" y="996" text-anchor="start" font-size="31.5" >Separation (nm)</text>
<text x="0" y="0" text-anchor="middle" font-size="31.5" transform="translate(47.6,741.3) rotate(-90)">Enhancement factor</text>
<line x1="1066.46" y1="795.35" x2="1066.46" y2="649.35" class="g"/>
<line x1="1170.75" y1="771.45" x2="1170.75" y2="625.45" class="g"/>
<line x1="1266.42" y1="749.52" x2="1266.42" y2="603.52" class="g"/>
<line x1="1362.1" y1="727.6" x2="1362.1" y2="581.6" class="g"/>
<line x1="979.4" y1="815.3" x2="1362.1" y2="727.6" class="g"/>
<line x1="979.4" y1="742.3" x2="1362.1" y2="654.6" class="g"/>
<line x1="979.4" y1="669.3" x2="1362.1" y2="581.6" class="g"/>
<line x1="1417.3" y1="765.22" x2="1417.3" y2="619.22" class="g"/>
<line x1="1472.5" y1="802.85" x2="1472.5" y2="656.85" class="g"/>
<line x1="1527.7" y1="840.47" x2="1527.7" y2="694.47" class="g"/>
<line x1="1582.9" y1="878.1" x2="1582.9" y2="732.1" class="g"/>
<line x1="1362.1" y1="727.6" x2="1582.9" y2="878.1" class="g"/>
<line x1="1362.1" y1="654.6" x2="1582.9" y2="805.1" class="g"/>
<line x1="1362.1" y1="581.6" x2="1582.9" y2="732.1" class="g"/>
<line x1="979.4" y1="815.3" x2="1200.2" y2="965.8" class="g"/>
<line x1="1066.46" y1="795.35" x2="1287.26" y2="945.85" class="g"/>
<line x1="1170.75" y1="771.45" x2="1391.55" y2="921.95" class="g"/>
<line x1="1266.42" y1="749.52" x2="1487.22" y2="900.02" class="g"/>
<line x1="1582.9" y1="878.1" x2="1362.1" y2="727.6" class="g"/>
<line x1="979.4" y1="815.3" x2="1362.1" y2="727.6" class="g"/>
<line x1="1034.6" y1="852.92" x2="1417.3" y2="765.22" class="g"/>
<line x1="1089.8" y1="890.55" x2="1472.5" y2="802.85" class="g"/>
<line x1="1145" y1="928.17" x2="1527.7" y2="840.47" class="g"/>
<line x1="1200.2" y1="965.8" x2="1582.9" y2="878.1" class="g"/>
<path d="M979.4 805.3l10-6 2.2-1.7 2.3-2.1 1.6-1.9 1.5-2.9 0.8-2.2 0.7-3.1 0.8-4.8 0.8-8.1 0.7-15.5 1.6-68.6 0.7 12.2 0.8 30.9 0.8 9.5 0.7-11.9 0.8-33.8 0.8-13.9 1.5 70.4 0.8 15.4 0.7 7.8 0.8 4.3 0.7 2.5 0.8 1.6 1.5 1.6 1.6 0.7 1.5 0.2 2.3 0.1 3.1-0.4 9.1-1.8 20.7-5 43.6-10.8 13.8-3.8 11.5-3.6 5.4-2.1 2.3-1.2 1.5-1.1 1.5-1.6 1.5-2.5 0.8-2 0.8-2.9 0.7-4.5 0.8-7.3 0.8-12.6 1.5-44.7 0.8-0.1 1.5 43.9 0.8 12.3 0.7 6.9 0.8 4.1 0.8 2.6 0.7 1.6 1.6 1.8 0.7 0.5 1.6 0.5 3 0.2 3.8-0.5 25.3-5.3 11.5-1.9 16.8-2.5 9.2-1.1 19.9-1.6 8.4-0.9 17.6-2.6 16.9-3.1 5.3-1.5 1.6-0.6 1.5-1 1.5-1.6 0.8-1.1 2.3-5 0.7-1.3 0.8-0.1 0.8 1.1 2.3 4.3 1.5 1.6 2.3 1.1 3.1 0.3 4.6-0.2 6.8-0.6 45.2-5.4 M990.4 813l9.2-5.1 3.1-2.1 2.3-2.1 1.5-1.9 1.5-3 0.8-2.2 0.8-3.2 0.7-4.9 0.8-8.4 0.8-16 1.5-71 0.8 12.7 0.7 32 0.8 9.9 0.8-12.3 0.7-35 0.8-14.4 1.5 73 0.8 16.1 0.8 8.1 0.7 4.4 0.8 2.6 0.8 1.7 0.7 1 1.5 1.1 1.6 0.4 1.5 0.1 2.3-0.1 6.1-1.3 40.6-11 45.9-11.8 7.7-2.1 4.6-1.5 3-1.3 2.3-1.3 1.6-1.4 1.5-2.2 0.8-1.7 0.7-2.5 0.8-3.9 0.7-6.3 0.8-10.7 1.5-37.9 0.8 0 1.5 37.8 0.8 10.5 0.8 5.9 0.7 3.5 0.8 2.2 0.8 1.3 1.5 1.5 2.3 0.9 3.1 0.1 4.5-0.5 26.8-5.3 26.8-4.2 8.4-1.1 19.9-1.9 8.5-1 16-2.5 17.6-3.1 6.2-1.4 3-1.3 1.6-1.2 0.7-0.8 3.1-4.6 0.8-0.1 0.7 0.7 2.3 3 1.5 1 2.3 0.6 3.1 0.1 4.6-0.3 7.6-0.9 44.4-5.9 M1001.5 820.7l5.3-2.6 3.9-2.2 3-2.1 2.3-2.1 1.6-2 1.5-3.1 0.7-2.3 0.8-3.4 0.8-5.3 0.7-9.1 0.8-17.3 1.5-77 0.8 13.8 0.8 34.8 0.7 10.8 0.8-13.2 0.8-38 0.7-15.5 1.6 79.3 0.7 17.4 0.8 8.8 0.8 4.9 0.7 2.9 0.8 1.8 0.8 1.1 1.5 1.3 1.5 0.4 3.1 0.1 4.6-1 27.5-8.5 25.3-7.2 13-3.4 32.1-7.7 5.4-1.7 2.3-1 1.5-1 1.6-1.4 1.5-2.5 0.8-2.1 0.7-3.1 0.8-5.1 0.8-8.7 1.5-30.6 0.7 0.2 1.6 31 0.7 8.6 0.8 4.8 0.8 2.9 0.7 1.7 0.8 1.1 1.5 1.3 2.3 0.6 3.1 0.1 3.8-0.5 27.6-5 21.4-3.5 12.3-1.8 29.8-3.7 16.1-2.5 17.6-3.1 6.1-1.4 3.1-1.2 2.3-1.8 3-4.1 0.8-0.1 0.8 0.6 2.3 2.5 1.5 0.9 2.3 0.5 3 0 5.4-0.5 8.4-1.1 42.9-6.3 M1012.5 828.5l9.2-4.3 3.1-1.8 2.3-1.8 1.5-1.6 1.5-2.4 1.6-4 0.7-3.4 0.8-5.3 0.8-9.1 0.7-17.6 1.5-64.1 0.8 15.4 0.8 9.9 1.5-48.6 1.5 76.7 0.8 20.8 0.8 10.4 0.7 5.6 0.8 3.3 0.8 2 0.7 1.3 0.8 0.8 0.8 0.5 1.5 0.6 3.1 0 5.3-1.3 27.6-9.9 26.8-8 14.5-3.8 30.6-7 4.6-1.3 3.1-1.4 1.5-1.2 1.5-2 0.8-1.6 0.8-2.6 0.7-4.2 0.8-7 1.5-24.6 0.8 0.3 1.5 25.7 0.8 7 0.8 4 0.7 2.3 0.8 1.5 0.7 0.9 1.6 1 1.5 0.4 1.5 0.2 3.1-0.1 4.6-0.6 49.7-8.5 40.6-5.8 32.9-5.6 6.1-1.4 3.1-1.2 2.3-1.6 3.1-3.5 0.7-0.2 0.8 0.5 2.3 2.2 1.5 0.7 2.3 0.3 3.1-0.1 6.1-0.6 10-1.5 40.5-6.5 M1023.6 836.4l6.1-2.3 4.6-2 3-1.7 2.3-1.7 1.6-1.5 1.5-2.4 0.8-1.7 0.7-2.5 0.8-3.8 0.8-6.2 0.7-11.3 0.8-22.6 1.5-80.9 1.5 79.8 0.8 21.9 0.8 10.7 0.7 5.6 0.8 3.2 0.8 1.9 0.7 1.2 0.8 0.7 1.5 0.7 1.6 0.2 1.5-0.2 2.3-0.4 3.1-1 5.3-2 16.9-7.2 7.6-3 13-4.3 13-4 9.2-2.6 7.7-1.9 32.1-6.8 3.1-0.9 2.3-1 1.5-1.2 1.5-2.2 0.8-2 0.8-3.3 0.7-5.5 1.6-19 0.7 0.5 1.6 20.6 0.7 5.7 0.8 3.1 0.8 1.9 0.7 1.1 0.8 0.8 0.8 0.4 1.5 0.6 3 0.2 3.9-0.2 6.1-0.9 49.7-8.4 42.1-6.6 28.4-5 6.1-1.3 3-1.1 2.3-1.5 3.1-3.2 0.8-0.1 3 2.2 1.6 0.6 2.3 0.2 3.8-0.2 17.6-2.6 38.3-6.8 M1034.6 844.2l10-3.5 3.8-1.7 2.3-1.5 1.5-1.3 1.5-1.9 1.6-3.4 0.7-3.1 0.8-5 0.8-8.9 0.7-17.9 1.6-64.2 1.5 63 0.8 17.4 0.7 8.4 0.8 4.4 0.8 2.4 0.7 1.5 0.8 0.9 0.7 0.5 1.6 0.4 1.5 0 2.3-0.4 4.6-1.5 6.1-2.6 16.1-7.7 7.6-3.4 11.5-4 13.8-4.5 10-2.9 9.1-2.3 13.8-2.9 17.6-3.1 2.3-0.6 2.3-0.7 1.5-0.9 1.6-1.7 0.7-1.6 0.8-2.5 0.8-4.2 1.5-14.4 0.8 0.7 1.5 16.5 0.8 4.5 0.7 2.5 0.8 1.5 0.8 0.9 1.5 1 2.3 0.6 3 0.1 7.7-0.8 22.2-3.5 82.7-14.3 17.6-3.2 5.3-1.2 3.1-1.1 2.3-1.5 3-3.2 0.8-0.1 3.1 2.1 1.5 0.6 2.3 0.2 3.8-0.2 7.7-1.1 10.7-1.8 37.5-7.2 M1045.6 852l10-3.4 3.8-1.6 2.3-1.3 1.5-1.1 1.6-1.7 1.5-2.9 0.8-2.5 0.7-4 0.8-7.4 0.8-14.4 1.5-51.9 1.5 50.7 0.8 13.9 0.8 6.8 0.7 3.5 0.8 1.9 0.8 1.1 0.7 0.7 0.8 0.3 1.5 0.3 2.3-0.3 2.3-0.6 5.4-2 6.1-2.9 15.3-7.8 7.7-3.3 8.4-3 13.7-4.4 13.1-3.7 12.2-2.9 13-2.5 16.1-2.5 3.8-0.9 1.6-0.9 0.7-0.7 0.8-1.1 0.7-1.7 0.8-2.9 1.5-9.7 0.8 0.7 1.5 12.1 0.8 3.2 0.8 1.7 0.7 1.1 0.8 0.6 1.5 0.6 2.3 0.4 3.9-0.2 7.6-0.9 21.4-3.7 100.3-18.1 5.4-1.2 3-1 2.3-1.2 3.1-2.8 0.8-0.1 3 1.7 1.5 0.4 2.3 0.1 3.9-0.3 18.3-3 37.5-6.9 M1056.7 859.8l9.9-3.3 3.9-1.5 2.3-1.2 1.5-1 1.5-1.5 1.5-2.4 0.8-2 0.8-3.3 0.7-6 0.8-11.7 1.5-41.8 1.6 40.7 0.7 11.1 0.8 5.4 0.8 2.7 0.7 1.5 0.8 0.9 0.8 0.4 1.5 0.3 2.3-0.2 2.3-0.6 6.1-2.4 6.1-3 14.6-7.8 7.6-3.5 4.6-1.7 14.6-4.6 16-4.6 13.8-3.2 11.5-2.2 17.6-2.2 3.8-0.9 1.6-0.9 0.7-0.9 0.8-1.3 0.8-2.2 1.5-7.2 0.7 0.8 1.6 9.7 0.7 2.6 0.8 1.3 1.5 1.3 1.6 0.4 2.3 0.2 3.8-0.2 6.9-1 20.6-3.6 102.6-19.2 5.4-1.2 3-1 1.6-0.8 3-2.3 0.8-0.1 3.1 1.2 1.5 0.3 2.3 0 3.8-0.4 17.6-2.8 38.3-7 M1067.7 867.6l10-3.2 6.1-2.6 1.5-0.9 1.6-1.3 1.5-2 0.8-1.7 0.7-2.8 0.8-4.9 0.7-9.6 1.6-34.2 1.5 33.1 0.8 9 0.7 4.4 0.8 2.1 0.8 1.2 0.7 0.6 0.8 0.4 1.5 0.1 2.3-0.4 2.3-0.7 6.1-2.5 6.2-3.1 13.7-7.7 7.7-3.7 4.6-1.8 10.7-3.4 18.4-5.2 16.1-3.8 12.2-2.1 6.9-0.9 11.5-1.1 3-0.7 1.6-1 0.7-1.1 0.8-1.6 1.5-5.1 0.8 0.8 1.5 7.9 0.8 2.1 0.8 1 1.5 0.9 1.5 0.3 2.3 0 3.1-0.2 7.6-1.2 19.2-3.5 104.8-20.2 4.6-1.1 3.1-0.9 1.5-0.8 3.1-2 0.7-0.1 3.1 1 1.5 0.2 2.3-0.1 3.8-0.4 16.9-2.7 39-7 M1078.8 875.4l9.9-3.1 6.1-2.5 3.1-2 1.5-1.7 0.8-1.5 0.8-2.3 0.7-4.1 0.8-7.9 1.5-28.1 1.5 27 0.8 7.4 0.8 3.5 0.7 1.7 0.8 0.9 0.8 0.5 0.7 0.2 1.6 0 4.6-1.2 5.3-2.3 6.1-3.2 16.1-9.3 5.4-2.7 4.6-1.8 11.5-3.5 12.2-3.5 10.7-2.8 10-2.2 7.6-1.5 6.9-1 7.7-0.8 9.9-0.6 3.1-0.6 1.5-0.8 0.8-0.9 0.7-1.3 1.6-4 0.7 0.9 1.6 7 0.7 1.8 0.8 0.8 1.5 0.7 1.6 0.2 5.3-0.3 7.7-1.3 16.8-3.2 36-7.3 71.9-14.2 6.9-1.8 1.5-0.6 3.1-1.9 0.8-0.1 3 0.8 1.6 0.1 6.1-0.5 16.1-2.6 39.8-7 M1089.8 883.2l9.2-2.8 6.9-2.7 3-1.8 1.6-1.5 0.7-1.3 0.8-2 0.8-3.4 0.7-6.6 1.6-23.6 1.5 22.4 0.8 6.1 0.7 2.9 0.8 1.4 0.8 0.7 0.7 0.4 1.5 0.1 2.3-0.5 2.3-0.7 6.2-2.6 6.1-3.3 16.8-10.1 5.4-2.7 4.6-1.7 25.2-7.1 12.3-3 8.4-1.9 7.7-1.2 6.8-0.9 6.9-0.5 9.2-0.3 2.3-0.3 1.5-0.6 0.8-0.6 0.8-0.9 1.5-2.6 0.8 1 1.5 5.7 0.8 1.4 0.7 0.6 1.6 0.5 1.5 0.1 5.3-0.5 7.7-1.3 15.3-3.1 40.6-8.5 69.6-14.1 6.2-1.6 1.5-0.6 3-1.7 0.8-0.1 3.1 0.6 1.5 0.1 6.1-0.6 15.3-2.5 40.6-6.9 M1100.8 890.8l9.2-2.7 6.9-2.4 3.1-1.6 1.5-1.4 0.8-1 0.7-1.7 0.8-2.8 0.8-5.3 1.5-19 1.5 17.9 0.8 4.8 0.8 2.3 0.7 1.1 0.8 0.5 0.8 0.2 1.5 0 4.6-1.2 6.1-2.5 6.1-3.1 16.9-9.3 5.3-2.5 4.6-1.7 24.5-6.8 11.5-2.9 9.2-2 7.6-1.4 6.9-1 6.9-0.7 10-0.7 2.3-0.3 1.5-0.6 0.7-0.6 0.8-0.8 1.5-2.5 0.8 0.8 1.5 5.2 0.8 1.2 0.8 0.5 2.3 0.4 5.3-0.4 12.3-2.3 52-11 69.7-14.2 6.1-1.5 4.6-2.1 0.8-0.2 3 0.5 1.5 0 5.4-0.6 56.6-9.4 M1111.9 898.5l9.2-2.6 6.9-2.3 3-1.5 1.5-1.2 0.8-0.9 0.8-1.3 0.7-2.3 0.8-4.5 1.5-15.5 1.6 14.5 0.7 3.9 0.8 1.8 0.8 0.8 1.5 0.5 1.5 0 4.6-1.3 6.1-2.3 6.2-2.9 16.8-8.5 5.4-2.3 4.6-1.6 24.4-6.9 19.9-4.7 7.7-1.5 7.7-1.2 16.8-1.9 2.3-0.4 1.5-0.6 0.8-0.5 0.8-0.8 1.5-2.4 0.7 0.7 1.6 4.6 0.7 1 0.8 0.5 1.5 0.3 2.3-0.1 3.1-0.3 11.5-2.2 52.8-11.2 70.4-14.5 6.1-1.5 4.6-2 0.8-0.2 3.8 0.4 4.6-0.5 58.2-9.6 M1122.9 906.2l9.2-2.5 6.9-2.3 3.1-1.3 1.5-1.1 0.8-0.8 0.7-1.2 0.8-1.9 0.7-3.8 1.6-13.2 1.5 12.2 0.8 3.3 0.7 1.4 0.8 0.7 1.5 0.4 1.6-0.1 4.6-1.3 6.1-2.2 22.9-10.2 5.4-2.2 4.6-1.5 23.7-6.7 19.2-4.6 15.3-3 20.6-3 1.6-0.6 0.7-0.6 0.8-0.7 1.5-2.3 0.8 0.6 1.5 3.9 0.8 0.9 0.8 0.4 1.5 0.3 5.3-0.6 10.8-2 53.5-11.6 71.2-14.8 5.4-1.3 4.6-1.8 0.7-0.2 3.9 0.2 3.8-0.4 33.7-5.7 25.2-4 M1134 913.9l9.1-2.5 6.9-2.1 3.1-1.3 1.5-0.9 0.8-0.7 0.8-1.1 0.7-1.6 0.8-3.2 1.5-11.2 1.5 10.2 0.8 2.7 0.8 1.2 0.7 0.6 1.6 0.2 1.5-0.1 4.6-1.2 6.1-2.1 23-9.2 9.9-3.5 22.2-6.2 17.6-4.4 16.9-3.5 19.1-3.2 3.1-0.7 1.5-0.6 0.8-0.5 0.7-0.8 1.6-2.2 0.7 0.4 1.6 3.5 0.7 0.8 0.8 0.3 1.5 0.2 4.6-0.6 12.3-2.4 54.3-11.8 69.7-14.6 5.3-1.3 4.6-1.7 0.8-0.2 3.8 0 3.8-0.4 32.2-5.6 26.8-4 M1145 921.6l9.2-2.5 6.9-2 3-1.2 2.3-1.4 0.8-0.9 0.8-1.4 0.7-2.6 1.6-9.3 1.5 8.3 0.8 2.2 0.7 1 0.8 0.4 1.5 0.2 1.5-0.3 4.6-1.1 6.2-1.9 29-10.2 24.5-7 12.3-3.2 12.2-2.8 13.8-3 16.8-3.2 3.1-0.7 1.5-0.7 0.8-0.5 0.8-0.7 1.5-2.2 0.8 0.2 1.5 3 0.8 0.7 0.7 0.2 1.6 0.1 3.8-0.4 11.5-2.4 55.1-12.1 70.4-14.9 5.4-1.3 4.5-1.6 4.6-0.2 3.1-0.4 32.1-5.7 27.6-4 M1156 929.5l16.1-4.5 3.1-1.1 2.3-1.2 0.7-0.8 0.8-1.1 0.8-2.1 1.5-7.3 1.5 6.4 0.8 1.6 0.8 0.7 0.7 0.3 2.3-0.1 3.8-0.9 6.9-2.1 28.4-9.5 19.1-5.3 15.3-3.9 13.8-3.2 13.8-3 21.4-4.4 1.5-0.5 1.5-0.8 0.8-0.7 1.5-2 0.8 0.2 1.5 2.5 0.8 0.6 0.8 0.3 1.5 0 3.8-0.5 65.9-14.1 71.1-15 5.4-1.2 4.6-1.6 7.6-0.8 32.2-5.8 27.5-4.4 M1167.1 937.4l16.1-4.5 3-1.1 2.3-1.2 0.8-0.7 0.7-1.1 0.8-2.1 1.5-6.9 1.6 6 0.7 1.6 0.8 0.7 0.8 0.3 2.3-0.2 9.1-2.4 24.5-8 10.8-3.1 39.8-9.6 15.3-3.4 22.9-4.8 1.6-0.5 1.5-0.8 0.8-0.7 1.5-1.9 0.7 0.1 1.6 2.3 0.7 0.5 2.3 0.2 3.9-0.5 64.3-13.7 72.7-15.2 5.3-1.2 5.4-1.6 3.8-0.3 3.1-0.5 32.1-6.1 27.6-4.7 M1178.1 945.3l16.1-4.5 3.1-1 2.3-1.2 0.7-0.6 0.8-1 0.7-1.8 1.6-6.2 1.5 5.3 0.8 1.3 0.7 0.6 0.8 0.2 2.3-0.2 9.2-2.4 22.9-7.2 10.8-3 47.4-11 32.2-6.9 1.5-0.5 1.5-0.7 0.8-0.6 1.5-1.9 0.8 0.1 1.5 1.9 0.8 0.5 2.3 0.1 3.8-0.5 61.2-13 75-15.5 6.2-1.4 5.3-1.6 3.9-0.3 3.8-0.6 31.4-6.2 27.5-5.1 M1189.2 953.2l16-4.5 3.1-1 2.3-1.1 1.5-1.4 0.8-1.5 1.5-5.2 1.5 4.3 0.8 1.1 0.8 0.4 0.7 0.1 2.3-0.2 8.5-2.2 22.9-6.8 11.5-3.1 78.8-17.3 2.3-0.7 1.6-0.8 0.7-0.5 1.6-1.8 0.7 0 1.6 1.6 1.5 0.5 2.3-0.1 3.8-0.6 29.9-6.4 104.8-21.5 6.9-1.6 5.4-1.6 3.8-0.3 4.6-0.8 58.2-11.7 M1200.2 961.1l16.1-4.5 3-1 2.3-1 1.6-1.4 0.7-1.4 1.6-4.8 1.5 3.9 0.8 1 0.7 0.4 0.8 0.1 2.3-0.3 8.4-2.1 24.5-6.9 10.7-2.7 11.5-2.5 28.3-5.7 37.5-8.4 3.1-0.9 1.5-0.7 0.8-0.6 1.5-1.7 0.8-0.1 1.5 1.5 1.5 0.4 2.3-0.2 3.9-0.7 27.5-5.8 105.6-21.6 7.7-1.8 2.3-0.8 3-1.3 0.8-0.2 4.6 0 5.4-0.9 56.6-11.8" class="c"/>
<line x1="979.4" y1="815.3" x2="979.4" y2="669.3" stroke="#000" stroke-width="2.3" />
<line x1="979.4" y1="815.3" x2="1200.2" y2="965.8" stroke="#000" stroke-width="2.3" />
<line x1="1200.2" y1="965.8" x2="1582.9" y2="878.1" stroke="#000" stroke-width="2.3" />
<line x1="979.4" y1="815.3" x2="971.96" y2="810.23" stroke="#000" stroke-width="2.3" />
<text x="966.7" y="820.2" text-anchor="end" font-size="31" >0</text>
<line x1="979.4" y1="742.3" x2="971.96" y2="737.23" stroke="#000" stroke-width="2.3" />
<text x="966.7" y="747.2" text-anchor="end" font-size="31" >0.5</text>
<line x1="979.4" y1="669.3" x2="971.96" y2="664.23" stroke="#000" stroke-width="2.3" />
<text x="966.7" y="674.2" text-anchor="end" font-size="31" >1</text>
<line x1="979.4" y1="815.3" x2="970.63" y2="817.31" stroke="#000" stroke-width="2.3" />
<text x="965.6" y="847.6" text-anchor="end" font-size="31" >1</text>
<line x1="1034.6" y1="852.92" x2="1025.83" y2="854.94" stroke="#000" stroke-width="2.3" />
<text x="1020.8" y="885.22" text-anchor="end" font-size="31" >1.5</text>
<line x1="1089.8" y1="890.55" x2="1081.03" y2="892.56" stroke="#000" stroke-width="2.3" />
<text x="1076" y="922.85" text-anchor="end" font-size="31" >2.0</text>
<line x1="1145" y1="928.17" x2="1136.23" y2="930.19" stroke="#000" stroke-width="2.3" />
<text x="1131.2" y="960.47" text-anchor="end" font-size="31" >2.5</text>
<line x1="1200.2" y1="965.8" x2="1191.43" y2="967.81" stroke="#000" stroke-width="2.3" />
<text x="1186.4" y="998.1" text-anchor="end" font-size="31" >3.0</text>
<line x1="1200.2" y1="965.8" x2="1207.64" y2="970.87" stroke="#000" stroke-width="2.3" />
<text x="1212" y="1002.9" text-anchor="start" font-size="31" >500</text>
<line x1="1287.26" y1="945.85" x2="1294.7" y2="950.92" stroke="#000" stroke-width="2.3" />
<text x="1299.06" y="982.95" text-anchor="start" font-size="31" >525</text>
<line x1="1391.55" y1="921.95" x2="1398.99" y2="927.02" stroke="#000" stroke-width="2.3" />
<text x="1403.35" y="959.05" text-anchor="start" font-size="31" >550</text>
<line x1="1487.22" y1="900.02" x2="1494.66" y2="905.09" stroke="#000" stroke-width="2.3" />
<text x="1499.02" y="937.12" text-anchor="start" font-size="31" >575</text>
<line x1="1582.9" y1="878.1" x2="1590.34" y2="883.17" stroke="#000" stroke-width="2.3" />
<text x="1594.7" y="915.2" text-anchor="start" font-size="31" >600</text>
<text x="1281.2" y="557.5" text-anchor="middle" font-size="31.8" >(d) Ag−r=40nm</text>
<text x="1361.5" y="1011" text-anchor="start" font-size="31.45" >Wavelength (nm)</text>
<text x="855" y="995.5" text-anchor="start" font-size="31.5" >Separation (nm)</text>
<text x="0" y="0" text-anchor="middle" font-size="31.6" transform="translate(911.2,742.7) rotate(-90)">scattering cross section</text>
<text x="980.5" y="633.9" font-size="31">x 10<tspan font-size="20.5" dx="1" dy="-19.4">−14</tspan></text>
<line x1="203.72" y1="1327.48" x2="203.72" y2="1181.78" class="g"/>
<line x1="281.44" y1="1309.96" x2="281.44" y2="1164.26" class="g"/>
<line x1="359.16" y1="1292.44" x2="359.16" y2="1146.74" class="g"/>
<line x1="436.88" y1="1274.92" x2="436.88" y2="1129.22" class="g"/>
<line x1="514.6" y1="1257.4" x2="514.6" y2="1111.7" class="g"/>
<line x1="126" y1="1345" x2="514.6" y2="1257.4" class="g"/>
<line x1="126" y1="1315.86" x2="514.6" y2="1228.26" class="g"/>
<line x1="126" y1="1257.58" x2="514.6" y2="1169.98" class="g"/>
<line x1="126" y1="1199.3" x2="514.6" y2="1111.7" class="g"/>
<line x1="570.68" y1="1295.35" x2="570.68" y2="1149.65" class="g"/>
<line x1="626.75" y1="1333.3" x2="626.75" y2="1187.6" class="g"/>
<line x1="682.83" y1="1371.25" x2="682.83" y2="1225.55" class="g"/>
<line x1="738.9" y1="1409.2" x2="738.9" y2="1263.5" class="g"/>
<line x1="514.6" y1="1257.4" x2="738.9" y2="1409.2" class="g"/>
<line x1="514.6" y1="1228.26" x2="738.9" y2="1380.06" class="g"/>
<line x1="514.6" y1="1169.98" x2="738.9" y2="1321.78" class="g"/>
<line x1="514.6" y1="1111.7" x2="738.9" y2="1263.5" class="g"/>
<line x1="126" y1="1345" x2="350.3" y2="1496.8" class="g"/>
<line x1="203.72" y1="1327.48" x2="428.02" y2="1479.28" class="g"/>
<line x1="281.44" y1="1309.96" x2="505.74" y2="1461.76" class="g"/>
<line x1="359.16" y1="1292.44" x2="583.46" y2="1444.24" class="g"/>
<line x1="436.88" y1="1274.92" x2="661.18" y2="1426.72" class="g"/>
<line x1="738.9" y1="1409.2" x2="514.6" y2="1257.4" class="g"/>
<line x1="126" y1="1345" x2="514.6" y2="1257.4" class="g"/>
<line x1="182.07" y1="1382.95" x2="570.68" y2="1295.35" class="g"/>
<line x1="238.15" y1="1420.9" x2="626.75" y2="1333.3" class="g"/>
<line x1="294.23" y1="1458.85" x2="682.83" y2="1371.25" class="g"/>
<line x1="350.3" y1="1496.8" x2="738.9" y2="1409.2" class="g"/>
<path d="M126 1232.8l12.4-10.1 9.4-7.4 7.7-5.6 6.3-4.1 6.2-3.7 6.2-3.2 6.2-2.5 6.2-2 6.2-1.4 6.3-0.8 6.2-0.4 6.2 0.1 10.9 0.8 23.3 2.7 9.3 0.9 10.9 0.7 10.9 0.1 10.9-0.3 10.8-1 10.9-1.4 10.9-1.9 10.9-2.3 12.4-3 12.5-3.4 12.4-3.8 26.4-8.7 52.9-18.8 21.7-7.4 23.3-7.4 21.8-6 M137.2 1249.5l9.3-6.8 7.8-5.3 6.2-4 6.2-3.7 6.3-3.2 6.2-2.8 6.2-2.2 6.2-1.8 4.7-0.9 6.2-0.9 6.2-0.5 6.2-0.1 10.9 0.4 21.8 1.7 10.9 0.6 10.8 0.3 10.9-0.2 10.9-0.6 10.9-1.2 10.9-1.5 10.8-1.9 10.9-2.3 12.5-3 12.4-3.3 12.4-3.6 26.5-8.4 55.9-18.9 23.3-7.5 24.9-7.4 23.3-6.1 M148.4 1264.8l7.8-5 7.8-4.6 6.2-3.4 6.2-3 6.2-2.5 6.2-2.1 6.3-1.7 6.2-1.2 9.3-1.1 9.3-0.4 9.4 0.2 23.3 1 10.9 0.2 12.4-0.1 10.9-0.5 12.4-1.1 14-1.9 14-2.5 15.5-3.3 21.8-5.5 23.3-6.8 23.3-7.3 52.9-17.1 26.4-8.1 23.3-6.5 23.3-5.8 M159.6 1279l12.5-6.7 6.2-2.9 6.2-2.5 6.2-2.1 4.7-1.3 4.7-1.1 6.2-1.1 7.7-0.9 9.4-0.5 9.3-0.1 32.6 0.5 12.5-0.3 10.9-0.7 12.4-1.2 14-1.9 14-2.4 14-2.9 23.3-5.7 24.9-6.9 23.3-7.1 57.5-17.9 28-8.2 24.8-6.6 23.3-5.5 M170.9 1292.4l10.8-5 9.4-3.5 9.3-2.6 4.7-1 6.2-1 7.7-0.8 9.4-0.5 40.4-0.3 10.9-0.5 10.8-0.7 12.5-1.3 12.4-1.6 14-2.4 14-2.8 23.3-5.4 26.4-7.1 24.9-7.2 60.6-18.3 29.6-8.4 26.4-6.8 24.9-5.6 M182.1 1305.1l9.3-3.6 7.8-2.3 7.7-1.9 9.4-1.5 7.7-0.8 7.8-0.5 38.9-0.8 10.9-0.5 10.8-0.8 12.5-1.3 12.4-1.7 12.4-2 14-2.7 24.9-5.6 28-7.3 26.4-7.4 62.2-18.2 31.1-8.6 28-7.1 26.4-5.8 M193.3 1317.3l7.8-2.4 6.2-1.5 7.8-1.5 7.7-1.1 14-1.1 37.3-1.1 20.2-1.3 12.5-1.3 12.4-1.7 12.4-2 14-2.6 24.9-5.5 29.5-7.5 28-7.7 63.7-18.2 32.7-8.8 29.5-7.2 28-6.1 M204.5 1329.3l6.2-1.6 6.2-1.2 6.3-0.9 7.7-0.9 12.5-0.8 37.3-1.4 12.4-0.9 10.9-1 10.9-1.3 10.8-1.6 10.9-1.8 12.5-2.4 24.8-5.4 29.6-7.3 27.9-7.6 66.9-18.7 34.2-9 31.1-7.5 29.5-6.2 M215.7 1341l10.9-1.8 10.9-1.2 10.9-0.6 34.2-1.5 10.8-0.7 10.9-1.1 10.9-1.2 12.4-1.8 12.5-2.1 12.4-2.3 26.4-5.7 29.6-7.3 27.9-7.4 68.4-18.8 35.8-9.3 32.6-7.7 31.1-6.4 M226.9 1352.5l7.8-1 9.3-0.8 40.4-2 21.8-1.7 12.4-1.5 12.5-1.8 12.4-2 14-2.6 26.4-5.7 29.6-7.2 29.5-7.8 68.4-18.6 35.7-9.1 34.2-8 17.1-3.6 17.1-3.4 M238.2 1363.9l13.9-1.1 37.3-1.9 20.3-1.7 12.4-1.5 12.4-1.8 14-2.3 14-2.6 26.4-5.7 29.6-7.2 29.5-7.7 69.9-18.7 37.3-9.5 35.8-8.2 17.1-3.5 18.7-3.7 M249.4 1375.2l41.9-2.3 21.8-1.9 12.4-1.4 14-2.1 14-2.3 14-2.7 26.4-5.7 29.6-7.1 29.5-7.6 71.5-19 37.3-9.4 20.2-4.7 18.7-4.1 18.6-3.8 18.7-3.6 M260.6 1386.3l35.7-1.9 12.5-1 10.8-1.2 12.5-1.5 14-2.1 14-2.4 14-2.8 26.4-5.7 29.5-7.1 28-7.2 71.5-18.9 38.9-9.6 20.2-4.7 20.2-4.5 20.2-4.1 20.2-3.8 M271.8 1397.3l29.5-1.7 12.5-1.1 12.4-1.3 12.4-1.7 14-2.1 14-2.5 14-2.8 24.9-5.4 29.5-7.1 28-7.1 71.5-18.8 40.4-10 21.8-5 20.2-4.4 21.7-4.4 21.8-4.1 M283 1408l26.4-1.7 12.5-1.2 12.4-1.4 12.4-1.8 12.5-2 14-2.5 14-2.8 24.8-5.5 28-6.7 28-7.1 73-19.1 42-10.3 21.8-5 21.7-4.7 21.8-4.3 23.3-4.3 M294.2 1418.5l12.5-0.8 12.4-1 10.9-1.2 12.4-1.5 12.4-1.9 12.5-2.1 26.4-5.1 24.9-5.5 28-6.8 101-26.1 42-10.3 23.3-5.3 21.7-4.6 23.4-4.6 24.8-4.6 M305.4 1428.8l23.4-2 21.7-2.7 23.3-3.9 26.5-5.2 23.3-5.2 28-6.7 101-26.1 43.5-10.6 24.9-5.6 23.3-4.9 24.9-4.9 24.8-4.5 M316.7 1438.9l20.2-2 21.7-2.9 23.3-4 24.9-5 23.3-5.2 26.5-6.4 101-26 45.1-11 24.8-5.6 24.9-5.2 24.9-4.9 28-5 M327.9 1448.8l20.2-2.3 20.2-3 21.7-3.8 23.4-4.8 23.3-5.3 24.8-6 102.6-26.4 45.1-10.9 26.4-5.9 24.9-5.2 26.4-5.1 29.6-5.3 M339.1 1458.4l18.6-2.3 18.7-2.9 20.2-3.7 21.8-4.5 23.3-5.3 24.8-6 104.2-26.8 24.9-6.1 21.7-5.1 26.4-5.9 26.5-5.4 28-5.4 29.5-5.2 M350.3 1467.9l17.1-2.3 17.1-2.8 18.6-3.5 21.8-4.6 21.8-5 24.8-6 104.2-26.7 24.9-6.2 23.3-5.5 26.4-5.8 28-5.8 28-5.3 32.6-5.7" class="c"/>
<line x1="126" y1="1345" x2="126" y2="1199.3" stroke="#000" stroke-width="2.3" />
<line x1="126" y1="1345" x2="350.3" y2="1496.8" stroke="#000" stroke-width="2.3" />
<line x1="350.3" y1="1496.8" x2="738.9" y2="1409.2" stroke="#000" stroke-width="2.3" />
<line x1="126" y1="1345" x2="118.55" y2="1339.96" stroke="#000" stroke-width="2.3" />
<text x="113.3" y="1349.9" text-anchor="end" font-size="31" >0</text>
<line x1="126" y1="1315.86" x2="118.55" y2="1310.82" stroke="#000" stroke-width="2.3" />
<text x="113.3" y="1320.76" text-anchor="end" font-size="31" >100</text>
<line x1="126" y1="1257.58" x2="118.55" y2="1252.54" stroke="#000" stroke-width="2.3" />
<text x="113.3" y="1262.48" text-anchor="end" font-size="31" >300</text>
<line x1="126" y1="1199.3" x2="118.55" y2="1194.26" stroke="#000" stroke-width="2.3" />
<text x="113.3" y="1204.2" text-anchor="end" font-size="31" >500</text>
<line x1="126" y1="1345" x2="117.22" y2="1346.98" stroke="#000" stroke-width="2.3" />
<text x="112.2" y="1377.3" text-anchor="end" font-size="31" >1</text>
<line x1="182.07" y1="1382.95" x2="173.3" y2="1384.93" stroke="#000" stroke-width="2.3" />
<text x="168.27" y="1415.25" text-anchor="end" font-size="31" >1.5</text>
<line x1="238.15" y1="1420.9" x2="229.37" y2="1422.88" stroke="#000" stroke-width="2.3" />
<text x="224.35" y="1453.2" text-anchor="end" font-size="31" >2.0</text>
<line x1="294.23" y1="1458.85" x2="285.45" y2="1460.83" stroke="#000" stroke-width="2.3" />
<text x="280.43" y="1491.15" text-anchor="end" font-size="31" >2.5</text>
<line x1="350.3" y1="1496.8" x2="341.52" y2="1498.78" stroke="#000" stroke-width="2.3" />
<text x="336.5" y="1529.1" text-anchor="end" font-size="31" >3.0</text>
<line x1="350.3" y1="1496.8" x2="357.75" y2="1501.84" stroke="#000" stroke-width="2.3" />
<text x="362.1" y="1533.9" text-anchor="start" font-size="31" >450</text>
<line x1="428.02" y1="1479.28" x2="435.47" y2="1484.32" stroke="#000" stroke-width="2.3" />
<text x="439.82" y="1516.38" text-anchor="start" font-size="31" >500</text>
<line x1="505.74" y1="1461.76" x2="513.19" y2="1466.8" stroke="#000" stroke-width="2.3" />
<text x="517.54" y="1498.86" text-anchor="start" font-size="31" >550</text>
<line x1="583.46" y1="1444.24" x2="590.91" y2="1449.28" stroke="#000" stroke-width="2.3" />
<text x="595.26" y="1481.34" text-anchor="start" font-size="31" >600</text>
<line x1="661.18" y1="1426.72" x2="668.63" y2="1431.76" stroke="#000" stroke-width="2.3" />
<text x="672.98" y="1463.82" text-anchor="start" font-size="31" >650</text>
<line x1="738.9" y1="1409.2" x2="746.35" y2="1414.24" stroke="#000" stroke-width="2.3" />
<text x="750.7" y="1446.3" text-anchor="start" font-size="31" >700</text>
<text x="432.4" y="1087.3" text-anchor="middle" font-size="31.8" >(e) Ag−r=60nm</text>
<text x="514" y="1541.6" text-anchor="start" font-size="31.45" >Wavelength (nm)</text>
<text x="3.3" y="1526" text-anchor="start" font-size="31.5" >Separation (nm)</text>
<text x="0" y="0" text-anchor="middle" font-size="31.5" transform="translate(47.6,1271.3) rotate(-90)">Enhancement factor</text>
<line x1="1066.46" y1="1325.35" x2="1066.46" y2="1179.35" class="g"/>
<line x1="1170.75" y1="1301.45" x2="1170.75" y2="1155.45" class="g"/>
<line x1="1266.42" y1="1279.52" x2="1266.42" y2="1133.52" class="g"/>
<line x1="1362.1" y1="1257.6" x2="1362.1" y2="1111.6" class="g"/>
<line x1="979.4" y1="1345.3" x2="1362.1" y2="1257.6" class="g"/>
<line x1="979.4" y1="1272.3" x2="1362.1" y2="1184.6" class="g"/>
<line x1="979.4" y1="1199.3" x2="1362.1" y2="1111.6" class="g"/>
<line x1="1417.3" y1="1295.22" x2="1417.3" y2="1149.22" class="g"/>
<line x1="1472.5" y1="1332.85" x2="1472.5" y2="1186.85" class="g"/>
<line x1="1527.7" y1="1370.47" x2="1527.7" y2="1224.47" class="g"/>
<line x1="1582.9" y1="1408.1" x2="1582.9" y2="1262.1" class="g"/>
<line x1="1362.1" y1="1257.6" x2="1582.9" y2="1408.1" class="g"/>
<line x1="1362.1" y1="1184.6" x2="1582.9" y2="1335.1" class="g"/>
<line x1="1362.1" y1="1111.6" x2="1582.9" y2="1262.1" class="g"/>
<line x1="979.4" y1="1345.3" x2="1200.2" y2="1495.8" class="g"/>
<line x1="1066.46" y1="1325.35" x2="1287.26" y2="1475.85" class="g"/>
<line x1="1170.75" y1="1301.45" x2="1391.55" y2="1451.95" class="g"/>
<line x1="1266.42" y1="1279.52" x2="1487.22" y2="1430.02" class="g"/>
<line x1="1582.9" y1="1408.1" x2="1362.1" y2="1257.6" class="g"/>
<line x1="979.4" y1="1345.3" x2="1362.1" y2="1257.6" class="g"/>
<line x1="1034.6" y1="1382.92" x2="1417.3" y2="1295.22" class="g"/>
<line x1="1089.8" y1="1420.55" x2="1472.5" y2="1332.85" class="g"/>
<line x1="1145" y1="1458.17" x2="1527.7" y2="1370.47" class="g"/>
<line x1="1200.2" y1="1495.8" x2="1582.9" y2="1408.1" class="g"/>
<path d="M979.4 1322.5l9.2-6.4 2.3-1.9 2.3-2.2 1.5-1.8 1.5-2.6 1.6-4.4 0.7-3.8 0.8-6 0.8-10.9 0.7-21.4 0.8-38.1 0.8-17.6 1.5 56.8 0.8 6.4 0.7-7.9 1.6-60.8 0.7 17.3 0.8 38.3 0.8 21.2 0.7 10.4 0.8 5.4 0.7 3 0.8 1.8 0.8 1.1 0.7 0.7 0.8 0.5 1.5 0.4 3.9 0.1 5.3-0.8 30.6-7.2 12.3-2.4 55.1-8.9 4.6-1.2 1.5-0.7 1.5-1.1 1.6-1.7 0.7-1.5 0.8-2 0.8-3.1 0.7-4.8 0.8-8 0.8-13.9 1.5-49.1 0.8 0.7 1.5 51.2 0.8 14.2 0.7 8.1 0.8 4.9 0.8 3.1 0.7 2 0.8 1.4 1.5 1.7 1.6 1 1.5 0.5 3 0.4 4.6-0.1 12.3-1.2 30.6-2.7 31.4-3.4 9.9-1.3 8.5-1.4 25.2-4.8 6.9-1.5 3.8-1.1 2.3-0.9 2.3-1.6 1.5-1.9 1.6-2.5 0.7-0.9 0.8-0.2 0.8 0.7 2.3 2.8 1.5 0.9 2.3 0.5 3.1 0 5.3-0.6 8.4-1.2 42.9-7.3 M990.4 1332.7l9.2-5.8 2.3-1.7 2.3-2 1.5-1.8 1.6-2.5 1.5-4.3 0.8-3.7 0.7-6 0.8-10.7 0.8-21.2 0.7-37.5 0.8-17.5 1.5 56.1 0.8 6.2 0.8-7.9 1.5-60.6 0.8 17.2 0.7 38.2 0.8 21.2 0.8 10.3 0.7 5.4 0.8 3 0.8 1.8 0.7 1.2 0.8 0.6 0.7 0.5 1.6 0.4 3 0 4.6-0.8 25.3-6.8 16.8-3.7 13-2.4 26.1-4.3 20.6-3 3.1-0.7 2.3-0.9 1.5-1.1 1.6-2.1 0.7-1.9 0.8-3 0.7-5 0.8-8.4 1.5-30 0.8 0.7 1.5 32.2 0.8 8.9 0.8 5 0.7 3 0.8 1.9 0.8 1.2 0.7 0.9 1.6 1 1.5 0.5 1.5 0.2 3.1 0.1 3.8-0.3 13-1.7 36-4 29.8-3.8 19.2-3.1 22.9-4.5 5.4-1.2 3.8-1.1 2.3-1 1.6-1 1.5-1.7 2.3-3 0.8-0.1 0.7 0.5 2.3 2.3 1.5 0.8 2.3 0.3 3.1-0.1 13.8-2.1 42.8-7.6 M1001.5 1342.8l8.4-4.7 2.3-1.5 2.3-1.9 1.5-1.6 1.6-2.2 1.5-3.5 0.7-2.7 0.8-4.1 0.8-6.7 0.7-12.1 0.8-24 0.8-42.6 0.7-19.7 1.6 63.9 0.7 7.1 0.8-8.9 1.5-68.8 0.8 19.6 0.8 43.5 0.7 24.1 0.8 11.8 0.8 6.2 0.7 3.5 0.8 2.1 0.8 1.3 0.7 0.8 0.8 0.5 1.5 0.6 3.1 0 3.8-0.7 26-7.8 6.9-1.7 10.7-2.3 14.6-2.8 21.4-3.7 11.5-1.8 13.8-1.6 3.8-1 1.5-0.9 1.6-1.9 0.7-1.8 0.8-3 0.8-5 1.5-17.6 0.7 0.8 1.6 20 0.7 5.4 0.8 3 0.8 1.8 0.7 1.1 0.8 0.7 0.8 0.5 1.5 0.5 3.1 0.3 6.1-0.5 13-2 59.7-8.2 16.1-2.5 17.6-3.2 16.8-3.3 7.7-2 2.3-0.9 1.5-0.9 1.5-1.5 2.3-2.6 0.8-0.1 3.1 2.2 1.5 0.6 2.3 0.3 3-0.3 13.1-2.1 43.6-8 M1012.5 1353l8.4-3.9 3.1-1.8 2.3-1.7 1.5-1.6 1.6-2.1 1.5-3.6 0.8-2.9 0.7-4.6 0.8-7.7 0.8-14.7 1.5-65 0.7 11.5 0.8 29.2 0.8 9.1 0.7-11.3 0.8-32.1 0.8-13.3 1.5 66.7 0.8 14.6 0.7 7.3 0.8 4 0.8 2.3 0.7 1.4 0.8 0.9 0.8 0.5 1.5 0.5 3.1-0.1 3-0.6 26-8.9 6.9-1.9 10-2.2 20.6-4.2 19.2-3.6 11.5-1.6 13.7-1.4 3.1-0.6 1.5-0.7 0.8-0.7 0.8-1.1 0.7-1.8 0.8-3 1.5-10.1 0.8 0.8 1.5 12.7 0.8 3.4 0.8 1.8 0.7 1 1.5 1 2.3 0.5 3.1 0 6.1-0.8 13.8-2.4 65.8-10.4 16.9-2.9 20.6-3.9 10-2.1 5.3-1.6 2.3-1.2 3.9-3.5 0.7-0.2 3.1 1.8 1.5 0.5 2.3 0.1 3.1-0.3 13-2.3 43.6-8.4 M1023.6 1363.4l5.3-1.8 4.6-1.9 3.8-2 2.3-1.5 1.6-1.5 1.5-2.1 0.8-1.6 0.7-2.3 0.8-3.3 0.8-5.5 0.7-10 0.8-19.7 1.5-70.8 1.5 69.3 0.8 19 0.8 9.3 0.7 4.8 0.8 2.6 0.8 1.6 0.7 0.9 0.8 0.5 1.5 0.4 3.1-0.3 3.8-1.1 23-9.2 6.1-2.1 6.1-1.7 28.4-6.3 19.9-4 12.2-1.8 14.5-1.1 3.1-0.5 1.5-0.6 0.8-0.6 0.8-1.1 0.7-1.6 1.6-5.3 0.7 0.8 1.6 8.1 0.7 2 0.8 1 0.8 0.6 1.5 0.5 2.3 0.1 3-0.3 92.7-16.4 35.9-6.9 6.9-1.5 3.8-1.3 2.3-1.3 3.1-2.6 0.8-0.2 3 1.5 1.6 0.3 2.3 0 3-0.4 12.3-2.3 44.4-8.9 M1034.6 1373.7l9.2-2.7 3.8-1.4 3.1-1.6 1.5-1 1.5-1.5 1.6-2.6 0.7-2.2 0.8-3.6 0.8-6.4 0.7-12.7 1.6-45.3 1.5 43.9 0.8 12 0.7 5.7 0.8 2.9 0.8 1.6 0.7 0.8 0.8 0.5 1.5 0.2 3.1-0.6 4.6-1.6 22.9-10.4 6.2-2.3 5.3-1.6 40.6-9.3 8.4-1.7 12.2-1.8 15.3-1 3.1-0.5 1.5-0.8 0.8-0.8 0.8-1.2 1.5-4 0.8 0.9 1.5 6.8 0.8 1.7 0.7 0.7 0.8 0.5 1.5 0.3 4.6-0.3 6.9-1.2 55.1-11 69.7-13.4 5.3-1.3 3.1-1 2.3-1.1 3-2.4 0.8-0.2 3.1 1.1 1.5 0.2 2.3-0.1 3.1-0.4 11.4-2.2 45.2-9.5 M1045.6 1382.3l9.2-2.6 3.9-1.3 3-1.3 1.5-0.8 1.6-1.2 1.5-1.8 0.8-1.6 0.7-2.5 0.8-4.4 0.8-8.5 1.5-30.5 1.5 29.2 0.8 7.9 0.8 3.7 0.7 1.8 0.8 1 0.8 0.5 1.5 0.2 3-0.7 4.6-1.6 23.8-10 6.1-2.3 6.1-1.9 28.3-7 19.2-4.2 12.2-2.1 16.1-1.6 3.1-0.6 1.5-0.7 0.7-0.8 0.8-1.1 1.5-3.5 0.8 0.8 1.5 6.1 0.8 1.5 0.8 0.6 0.7 0.4 1.6 0.2 4.6-0.4 6.8-1.2 52.1-10.5 72.7-14.2 5.4-1.3 3-0.9 2.3-1.1 3.1-2.1 0.8-0.1 3 0.8 1.5 0.1 5.4-0.6 56.6-11.6 M1056.7 1390.9l9.2-2.5 6.9-2.3 3-1.6 1.5-1.4 0.8-1.1 0.8-1.7 0.7-3 0.8-5.7 1.5-20.1 1.6 18.9 0.7 5.1 0.8 2.4 0.8 1.1 0.7 0.5 0.8 0.2 1.5 0 3.1-0.8 6.1-2.2 18.4-7.4 8.4-3.2 6.9-2.2 10.7-3 20.7-5.3 16.8-3.8 12.3-2.3 16-2.1 3.1-0.7 1.5-0.7 0.8-0.8 0.8-1 1.5-3 0.7 0.8 1.6 5.3 0.7 1.3 0.8 0.6 1.5 0.4 2.3 0 3.1-0.4 131.6-26.4 8.5-2.1 2.3-1 3-1.8 0.8-0.2 3.1 0.6 1.5 0.1 5.3-0.7 56.7-11.5 M1067.7 1399.5l9.2-2.4 6.9-2.2 3.1-1.4 1.5-1 0.8-0.9 0.7-1.2 0.8-2.2 0.7-4 1.6-14.1 1.5 13 0.8 3.5 0.7 1.5 0.8 0.8 0.8 0.2 1.5 0.1 3.1-0.8 6.1-2 20.7-7.8 9.1-3.3 6.2-1.9 19.1-5.5 14.5-3.8 13.8-3.1 11.5-2.3 18.4-3.2 1.5-0.5 1.5-1.1 0.8-1 1.5-2.6 0.8 0.6 1.5 4.8 0.8 1.1 0.8 0.5 1.5 0.3 2.3 0 3-0.4 132.5-27 5.3-1.3 3.1-0.9 1.5-0.6 3.1-1.7 0.7-0.1 3.1 0.4 1.5 0 5.4-0.7 56.6-11.4 M1078.8 1408l8.4-2.1 7.6-2.2 3.1-1.2 2.3-1.5 0.8-0.9 0.7-1.5 0.8-2.7 1.5-9.7 1.5 8.6 0.8 2.3 0.8 1 0.7 0.4 0.8 0.1 1.5-0.1 3.1-0.8 6.9-2.2 30.6-10.7 29.1-8.7 9.2-2.5 9.9-2.3 33.7-7.2 1.5-0.5 1.6-1.1 0.7-0.9 1.6-2.4 0.7 0.6 1.6 4.2 0.7 1 0.8 0.4 1.5 0.3 2.3-0.1 3.1-0.5 132.4-27.4 8.4-2.1 4.6-2 0.8-0.2 4.6 0.2 6.1-0.8 55.9-11.3 M1089.8 1416.6l16.1-4.2 3-1 2.3-1.3 0.8-0.7 0.8-1.2 0.7-2.1 1.6-7.3 1.5 6.4 0.8 1.7 0.7 0.7 0.8 0.2 1.5 0 1.5-0.3 10.8-3.1 29-9.6 32.2-10 9.2-2.5 32.9-7.5 6.9-1.8 3-1.3 1.6-1.5 1.5-2.1 0.8 0.5 1.5 3.7 0.8 0.9 0.7 0.3 1.6 0.2 5.3-0.6 133.2-28 7.7-1.9 4.5-1.9 0.8-0.1 4.6 0 6.1-0.9 55.9-11.1 M1100.8 1424.5l16.1-4.2 3.1-1 2.3-1 0.7-0.7 0.8-0.9 0.8-1.7 1.5-5.9 1.5 5 0.8 1.3 0.8 0.5 0.7 0.1 3.1-0.3 10.7-3.1 29.1-9.4 32.1-9.8 9.2-2.4 32.2-7.4 7.6-1.9 3.1-1.3 1.5-1.3 1.5-1.9 0.8 0.4 1.5 3.2 0.8 0.8 0.8 0.3 1.5 0.1 5.4-0.7 133.1-28.2 7.7-1.9 4.6-1.7 5.3-0.3 6.2-0.9 55.8-11.3 M1111.9 1432.3l15.3-3.8 3.8-1.2 2.3-0.9 1.5-1.3 0.8-1.3 1.5-4.5 1.6 3.6 0.7 0.9 0.8 0.4 0.8 0 3.8-0.6 10.7-3.1 28.3-8.9 32.2-9.6 9.2-2.3 32.1-7.4 7.7-1.9 3-1.2 1.6-1.3 1.5-1.7 0.7 0.4 1.6 2.8 0.7 0.6 0.8 0.2 1.5 0.1 5.4-0.8 133.9-28.6 6.9-1.7 4.6-1.6 5.4-0.4 6.1-1 55.9-11.4 M1122.9 1440.2l15.3-3.8 6.2-1.9 1.5-1 0.7-1 1.6-3.2 1.5 2.4 0.8 0.5 1.5 0.2 3.8-0.7 11.5-3.2 28.3-8.7 31.4-9.1 9.2-2.4 39.8-9.3 3.1-1.1 1.5-1.1 1.5-1.7 0.8 0.3 1.5 2.4 0.8 0.6 2.3 0.2 5.3-0.9 134-28.8 6.9-1.7 4.6-1.5 5.3-0.5 6.1-1.1 55.9-11.5 M1134 1448.1l16-4 5.4-1.6 1.5-1 0.8-0.8 1.5-2.8 1.5 2 0.8 0.5 0.8 0.1 2.3-0.3 3.8-0.9 10.7-2.9 27.6-8.2 30.6-8.7 9.2-2.3 40.5-9.5 3.1-1.1 1.5-1 1.6-1.5 0.7 0.2 1.6 2 0.7 0.4 2.3 0.2 4.6-0.8 135.5-29.4 6.1-1.5 4.6-1.4 5.4-0.6 6.1-1.2 55.9-11.5 M1145 1456l16.1-4 5.3-1.5 1.6-0.7 0.7-0.6 1.6-1.9 1.5 1.1 1.5 0.3 3.1-0.5 6.9-1.7 10.7-3 24.5-7.1 29.8-8.3 9.2-2.3 40.6-9.4 2.3-0.8 1.5-0.7 2.3-2 0.8 0.1 1.5 1.7 0.8 0.4 2.3 0 4.6-0.8 135.4-29.6 6.2-1.5 4.5-1.4 5.4-0.7 6.1-1.1 55.9-11.7 M1156 1463.6l16.1-3.9 5.4-1.5 1.5-0.7 0.8-0.6 1.5-2 1.5 1.2 1.6 0.3 3-0.5 5.4-1.3 11.5-3 26-7.3 29.1-7.9 49.7-11.7 2.3-0.7 1.5-0.7 2.3-1.8 0.8 0 1.5 1.5 0.8 0.3 2.3-0.1 4.6-0.8 135.5-29.8 6.1-1.4 4.6-1.3 5.3-0.8 5.4-1.1 56.6-11.9 M1167.1 1471.3l21.4-5.3 2.3-1.1 1.5-1.6 1.6 0.8 0.7 0.1 1.6-0.1 3.8-0.8 12.2-3.1 27.6-7.5 30.6-7.9 49-11.6 3.8-1.2 1.6-0.8 1.5-1.2 0.7 0 1.6 1.2 0.7 0.2 2.3-0.1 4.6-0.8 135.5-29.9 6.1-1.4 4.6-1.3 10.7-1.9 56.7-12.1 M1178.1 1479l21.5-5.3 2.2-1 1.6-1.4 1.5 0.6 0.8 0.1 5.3-1 69.7-17.7 49.7-11.8 3.9-1.1 1.5-0.8 1.5-1.2 0.8 0 1.5 1 1.6 0.2 6.1-1 136.2-30.2 10-2.5 9.9-1.8 57.4-12.4 M1189.2 1486.7l21.4-5.3 2.3-0.9 1.5-1.2 1.5 0.4 0.8 0.1 5.4-1 68.9-17 50.5-11.9 4.6-1.5 2.3-1.5 0.7-0.1 1.6 0.8 1.5 0.1 6.1-1.1 135.5-30.1 10.7-2.6 9.2-1.8 58.2-12.5 M1200.2 1494.3l21.4-5.2 2.3-0.9 1.6-1.1 2.3 0.4 4.5-0.8 119.4-28.3 4.6-1.3 1.6-0.7 1.5-1.1 0.8-0.1 1.5 0.6 1.5 0 6.2-1.1 135.4-30.2 11.5-2.8 7.7-1.5 58.9-12.8" class="c"/>
<line x1="979.4" y1="1345.3" x2="979.4" y2="1199.3" stroke="#000" stroke-width="2.3" />
<line x1="979.4" y1="1345.3" x2="1200.2" y2="1495.8" stroke="#000" stroke-width="2.3" />
<line x1="1200.2" y1="1495.8" x2="1582.9" y2="1408.1" stroke="#000" stroke-width="2.3" />
<line x1="979.4" y1="1345.3" x2="971.96" y2="1340.23" stroke="#000" stroke-width="2.3" />
<text x="966.7" y="1350.2" text-anchor="end" font-size="31" >0</text>
<line x1="979.4" y1="1272.3" x2="971.96" y2="1267.23" stroke="#000" stroke-width="2.3" />
<text x="966.7" y="1277.2" text-anchor="end" font-size="31" >0.5</text>
<line x1="979.4" y1="1199.3" x2="971.96" y2="1194.23" stroke="#000" stroke-width="2.3" />
<text x="966.7" y="1204.2" text-anchor="end" font-size="31" >1</text>
<line x1="979.4" y1="1345.3" x2="970.63" y2="1347.31" stroke="#000" stroke-width="2.3" />
<text x="965.6" y="1377.6" text-anchor="end" font-size="31" >1</text>
<line x1="1034.6" y1="1382.92" x2="1025.83" y2="1384.94" stroke="#000" stroke-width="2.3" />
<text x="1020.8" y="1415.22" text-anchor="end" font-size="31" >1.5</text>
<line x1="1089.8" y1="1420.55" x2="1081.03" y2="1422.56" stroke="#000" stroke-width="2.3" />
<text x="1076" y="1452.85" text-anchor="end" font-size="31" >2.0</text>
<line x1="1145" y1="1458.17" x2="1136.23" y2="1460.19" stroke="#000" stroke-width="2.3" />
<text x="1131.2" y="1490.47" text-anchor="end" font-size="31" >2.5</text>
<line x1="1200.2" y1="1495.8" x2="1191.43" y2="1497.81" stroke="#000" stroke-width="2.3" />
<text x="1186.4" y="1528.1" text-anchor="end" font-size="31" >3.0</text>
<line x1="1200.2" y1="1495.8" x2="1207.64" y2="1500.87" stroke="#000" stroke-width="2.3" />
<text x="1212" y="1532.9" text-anchor="start" font-size="31" >500</text>
<line x1="1287.26" y1="1475.85" x2="1294.7" y2="1480.92" stroke="#000" stroke-width="2.3" />
<text x="1299.06" y="1512.95" text-anchor="start" font-size="31" >525</text>
<line x1="1391.55" y1="1451.95" x2="1398.99" y2="1457.02" stroke="#000" stroke-width="2.3" />
<text x="1403.35" y="1489.05" text-anchor="start" font-size="31" >550</text>
<line x1="1487.22" y1="1430.02" x2="1494.66" y2="1435.09" stroke="#000" stroke-width="2.3" />
<text x="1499.02" y="1467.12" text-anchor="start" font-size="31" >575</text>
<line x1="1582.9" y1="1408.1" x2="1590.34" y2="1413.17" stroke="#000" stroke-width="2.3" />
<text x="1594.7" y="1445.2" text-anchor="start" font-size="31" >600</text>
<text x="1281.2" y="1087.5" text-anchor="middle" font-size="31.8" >(f) Ag−r=60nm</text>
<text x="1361.5" y="1541" text-anchor="start" font-size="31.45" >Wavelength (nm)</text>
<text x="855" y="1525.5" text-anchor="start" font-size="31.5" >Separation (nm)</text>
<text x="0" y="0" text-anchor="middle" font-size="31.6" transform="translate(911.2,1272.7) rotate(-90)">scattering cross section</text>
<text x="980.5" y="1163.9" font-size="31">x 10<tspan font-size="20.5" dx="1" dy="-19.4">−14</tspan></text>
<line x1="203.72" y1="1858.48" x2="203.72" y2="1712.78" class="g"/>
<line x1="281.44" y1="1840.96" x2="281.44" y2="1695.26" class="g"/>
<line x1="359.16" y1="1823.44" x2="359.16" y2="1677.74" class="g"/>
<line x1="436.88" y1="1805.92" x2="436.88" y2="1660.22" class="g"/>
<line x1="514.6" y1="1788.4" x2="514.6" y2="1642.7" class="g"/>
<line x1="126" y1="1876" x2="514.6" y2="1788.4" class="g"/>
<line x1="126" y1="1846.86" x2="514.6" y2="1759.26" class="g"/>
<line x1="126" y1="1788.58" x2="514.6" y2="1700.98" class="g"/>
<line x1="126" y1="1730.3" x2="514.6" y2="1642.7" class="g"/>
<line x1="570.68" y1="1826.35" x2="570.68" y2="1680.65" class="g"/>
<line x1="626.75" y1="1864.3" x2="626.75" y2="1718.6" class="g"/>
<line x1="682.83" y1="1902.25" x2="682.83" y2="1756.55" class="g"/>
<line x1="738.9" y1="1940.2" x2="738.9" y2="1794.5" class="g"/>
<line x1="514.6" y1="1788.4" x2="738.9" y2="1940.2" class="g"/>
<line x1="514.6" y1="1759.26" x2="738.9" y2="1911.06" class="g"/>
<line x1="514.6" y1="1700.98" x2="738.9" y2="1852.78" class="g"/>
<line x1="514.6" y1="1642.7" x2="738.9" y2="1794.5" class="g"/>
<line x1="126" y1="1876" x2="350.3" y2="2027.8" class="g"/>
<line x1="203.72" y1="1858.48" x2="428.02" y2="2010.28" class="g"/>
<line x1="281.44" y1="1840.96" x2="505.74" y2="1992.76" class="g"/>
<line x1="359.16" y1="1823.44" x2="583.46" y2="1975.24" class="g"/>
<line x1="436.88" y1="1805.92" x2="661.18" y2="1957.72" class="g"/>
<line x1="738.9" y1="1940.2" x2="514.6" y2="1788.4" class="g"/>
<line x1="126" y1="1876" x2="514.6" y2="1788.4" class="g"/>
<line x1="182.07" y1="1913.95" x2="570.68" y2="1826.35" class="g"/>
<line x1="238.15" y1="1951.9" x2="626.75" y2="1864.3" class="g"/>
<line x1="294.23" y1="1989.85" x2="682.83" y2="1902.25" class="g"/>
<line x1="350.3" y1="2027.8" x2="738.9" y2="1940.2" class="g"/>
<path d="M126 1770.6l4.7 0.5 4.6 0.1 4.7-0.3 6.2-0.8 4.7-0.9 6.2-1.7 4.7-1.5 6.2-2.3 10.8-5 10.9-5.7 10.9-6.4 29.5-18.2 7.8-4.4 6.2-3.3 9.4-4.4 7.7-3.1 7.8-2.5 7.8-1.8 6.2-1.1 7.8-0.8 6.2-0.2 7.8 0 13.9 1 34.2 3.7 17.1 1.3 9.4 0.4 9.3 0.2 9.3-0.1 10.9-0.5 10.9-0.8 12.4-1.3 12.5-1.6 12.4-2 14-2.6 14-2.9 14-3.1 15.5-3.8 M137.2 1790.9l7.8-0.6 4.7-0.7 4.6-1 9.3-2.6 9.4-3.5 9.3-4.1 9.3-4.7 10.9-5.9 26.4-14.9 14-7.1 7.8-3.4 7.8-3 7.7-2.4 7.8-1.8 6.2-1.1 6.2-0.8 6.3-0.4 7.7-0.2 14 0.4 34.2 2.5 18.7 0.9 10.8 0.1 9.4-0.1 10.9-0.5 10.8-0.8 12.5-1.3 12.4-1.6 14-2.2 14-2.5 14-2.8 15.5-3.5 17.1-4.1 17.1-4.3 M148.4 1809.1l6.2-1.2 7.8-2.1 6.2-2 7.8-3 7.8-3.4 9.3-4.4 34.2-18 14-6.8 7.8-3.2 7.7-2.8 7.8-2.4 7.8-1.8 6.2-1 6.2-0.8 6.2-0.5 6.3-0.3 13.9 0.1 35.8 1.7 20.2 0.4 10.9-0.2 10.9-0.5 10.8-0.8 10.9-1.1 12.5-1.5 13.9-2.1 14-2.5 15.6-3 15.5-3.3 17.1-3.9 37.3-9.5 M159.6 1825.5l6.3-2 6.2-2.2 6.2-2.4 7.8-3.4 12.4-6 29.5-15 7.8-3.8 7.8-3.4 7.8-3 6.2-2.1 7.7-2.2 6.3-1.5 6.2-1.1 6.2-0.8 12.4-0.9 14-0.1 35.8 0.9 20.2 0 10.9-0.4 10.8-0.7 10.9-0.9 12.5-1.4 13.9-1.9 14-2.3 15.6-2.8 15.5-3.2 17.1-3.7 18.7-4.4 41.9-10.7 M170.9 1840.3l9.3-3.9 9.3-4.2 37.3-18.8 14-6.5 7.8-3.2 7.8-2.7 7.7-2.3 6.2-1.5 6.3-1.2 6.2-0.9 12.4-1.1 14-0.3 35.8 0.4 20.2-0.3 10.8-0.5 12.5-1 12.4-1.2 12.4-1.5 14-2.1 15.6-2.6 17.1-3.3 17.1-3.6 37.3-8.6 45.1-11.5 M182.1 1853.9l14-7 29.5-15.5 14-6.7 9.3-3.9 7.8-2.8 7.8-2.3 7.7-1.9 6.2-1.1 7.8-1.1 6.2-0.6 7.8-0.5 12.4-0.2 37.4-0.1 12.4-0.3 10.9-0.6 20.2-1.7 21.7-2.8 15.6-2.4 15.5-2.7 17.1-3.4 18.7-3.9 40.4-9.4 48.2-12.3 M193.3 1866.3l29.5-16.4 9.4-4.9 9.3-4.5 9.3-4 7.8-2.8 7.7-2.4 7.8-1.9 6.2-1.2 6.3-0.9 6.2-0.7 7.7-0.5 12.5-0.4 37.3-0.5 12.4-0.4 10.9-0.7 21.8-2 23.3-3.1 15.5-2.6 17.1-3.1 17.1-3.4 18.7-4 43.5-10.1 51.3-12.9 M204.5 1877.8l12.4-7.5 10.9-6.4 9.3-5 7.8-3.9 9.3-4 7.8-2.9 7.8-2.4 7.8-1.9 6.2-1.2 6.2-0.9 12.4-1.1 12.5-0.5 37.3-0.8 12.4-0.6 10.9-0.7 21.8-2.2 23.3-3.2 15.5-2.6 17.1-3.1 18.7-3.8 20.2-4.3 45-10.5 56-13.9 M215.7 1888.6l9.3-6 9.4-5.7 9.3-5.2 7.8-3.9 7.7-3.5 7.8-2.8 6.2-2 7.8-1.9 6.2-1.2 6.2-1 12.5-1.1 12.4-0.6 35.8-1 12.4-0.7 10.9-0.8 23.3-2.5 24.9-3.6 17.1-2.9 17.1-3.3 38.8-8.2 48.2-11.1 57.5-14.2 M226.9 1898.9l7.8-5.3 7.8-4.9 7.8-4.5 7.7-4 7.8-3.4 6.2-2.4 6.2-1.9 7.8-2 10.9-1.9 12.4-1.3 10.9-0.6 37.3-1.3 12.4-0.8 10.9-0.9 23.3-2.6 24.9-3.7 17.1-3 17.1-3.3 20.2-4.1 21.8-4.8 49.7-11.5 60.6-14.8 M238.2 1908.6l7.7-5.4 6.2-3.9 7.8-4.5 6.2-3.1 6.2-2.8 6.3-2.3 6.2-1.9 7.8-1.9 10.8-1.9 10.9-1.1 10.9-0.6 35.7-1.6 23.4-1.8 23.3-2.7 26.4-4.1 17.1-3.1 18.7-3.6 41.9-8.9 51.3-11.8 63.8-15.5 M249.4 1918.1l6.2-4.4 6.2-4 6.2-3.6 6.2-3.1 6.3-2.7 6.2-2.3 6.2-1.8 6.2-1.5 9.3-1.6 10.9-1.2 10.9-0.7 34.2-1.8 23.3-1.9 12.4-1.4 12.5-1.7 26.4-4.2 17.1-3.1 18.7-3.6 43.5-9.3 52.8-12.1 66.9-16.1 M260.6 1927.3l6.2-4.3 4.7-3 6.2-3.5 4.6-2.4 4.7-2 6.2-2.4 6.2-1.9 6.3-1.5 9.3-1.6 10.9-1.2 43.5-2.7 23.3-2.1 24.9-3.2 26.4-4.3 17.1-3.1 20.2-4 43.5-9.4 54.4-12.4 70-16.7 M271.8 1936.4l6.2-4.3 4.7-2.8 4.6-2.6 4.7-2.3 4.7-2 6.2-2.2 4.6-1.3 6.3-1.5 9.3-1.6 9.3-1 42-2.9 23.3-2.2 24.9-3.4 28-4.6 37.3-7.3 45-9.7 56-12.8 71.5-16.9 M283 1945.4l4.7-3.2 4.6-2.8 4.7-2.6 4.7-2.2 4.6-1.9 4.7-1.6 4.7-1.4 6.2-1.4 7.7-1.4 9.4-1.1 40.4-3.1 23.3-2.3 24.9-3.4 27.9-4.8 37.4-7.3 45-9.7 57.5-13.1 76.2-18 M294.2 1954.3l7.8-4.9 4.7-2.5 4.6-2.2 4.7-1.9 4.6-1.5 9.4-2.4 7.7-1.4 9.4-1.1 38.8-3.2 23.4-2.5 24.8-3.6 28-4.8 37.3-7.4 46.6-10.1 59.1-13.5 77.7-18.2 M305.4 1963.2l7.8-4.8 7.8-3.8 7.8-2.8 9.3-2.5 7.8-1.4 9.3-1.2 38.8-3.4 21.8-2.5 24.9-3.7 28-4.9 37.3-7.5 46.6-10.1 60.6-13.8 80.8-18.9 M316.7 1971.9l6.2-3.7 7.7-3.8 7.8-2.8 9.3-2.4 7.8-1.3 7.8-1 37.3-3.5 23.3-2.8 24.9-3.9 28-5 37.3-7.6 46.6-10.2 60.6-13.8 84-19.5 M327.9 1980.6l6.2-3.6 7.8-3.6 7.7-2.6 7.8-1.9 6.2-1.1 7.8-1.1 37.3-3.7 21.8-2.7 24.8-3.9 28-5.1 37.3-7.6 46.6-10.2 62.2-14.1 87.1-20.2 M339.1 1989.2l6.2-3.5 6.2-2.8 7.8-2.6 7.8-1.9 6.2-1.1 7.8-1.1 34.2-3.5 21.7-2.7 24.9-4 28-5.1 37.3-7.7 46.6-10.2 63.7-14.5 90.2-20.9 M350.3 1997.7l6.2-3.4 6.2-2.7 6.3-2.1 7.7-1.9 6.2-1.1 7.8-1 34.2-3.6 20.2-2.6 24.9-4 28-5.3 37.3-7.7 46.6-10.3 63.7-14.5 93.3-21.5" class="c"/>
<line x1="126" y1="1876" x2="126" y2="1730.3" stroke="#000" stroke-width="2.3" />
<line x1="126" y1="1876" x2="350.3" y2="2027.8" stroke="#000" stroke-width="2.3" />
<line x1="350.3" y1="2027.8" x2="738.9" y2="1940.2" stroke="#000" stroke-width="2.3" />
<line x1="126" y1="1876" x2="118.55" y2="1870.96" stroke="#000" stroke-width="2.3" />
<text x="113.3" y="1880.9" text-anchor="end" font-size="31" >0</text>
<line x1="126" y1="1846.86" x2="118.55" y2="1841.82" stroke="#000" stroke-width="2.3" />
<text x="113.3" y="1851.76" text-anchor="end" font-size="31" >100</text>
<line x1="126" y1="1788.58" x2="118.55" y2="1783.54" stroke="#000" stroke-width="2.3" />
<text x="113.3" y="1793.48" text-anchor="end" font-size="31" >300</text>
<line x1="126" y1="1730.3" x2="118.55" y2="1725.26" stroke="#000" stroke-width="2.3" />
<text x="113.3" y="1735.2" text-anchor="end" font-size="31" >500</text>
<line x1="126" y1="1876" x2="117.22" y2="1877.98" stroke="#000" stroke-width="2.3" />
<text x="112.2" y="1908.3" text-anchor="end" font-size="31" >1</text>
<line x1="182.07" y1="1913.95" x2="173.3" y2="1915.93" stroke="#000" stroke-width="2.3" />
<text x="168.27" y="1946.25" text-anchor="end" font-size="31" >1.5</text>
<line x1="238.15" y1="1951.9" x2="229.37" y2="1953.88" stroke="#000" stroke-width="2.3" />
<text x="224.35" y="1984.2" text-anchor="end" font-size="31" >2.0</text>
<line x1="294.23" y1="1989.85" x2="285.45" y2="1991.83" stroke="#000" stroke-width="2.3" />
<text x="280.43" y="2022.15" text-anchor="end" font-size="31" >2.5</text>
<line x1="350.3" y1="2027.8" x2="341.52" y2="2029.78" stroke="#000" stroke-width="2.3" />
<text x="336.5" y="2060.1" text-anchor="end" font-size="31" >3.0</text>
<line x1="350.3" y1="2027.8" x2="357.75" y2="2032.84" stroke="#000" stroke-width="2.3" />
<text x="362.1" y="2064.9" text-anchor="start" font-size="31" >450</text>
<line x1="428.02" y1="2010.28" x2="435.47" y2="2015.32" stroke="#000" stroke-width="2.3" />
<text x="439.82" y="2047.38" text-anchor="start" font-size="31" >500</text>
<line x1="505.74" y1="1992.76" x2="513.19" y2="1997.8" stroke="#000" stroke-width="2.3" />
<text x="517.54" y="2029.86" text-anchor="start" font-size="31" >550</text>
<line x1="583.46" y1="1975.24" x2="590.91" y2="1980.28" stroke="#000" stroke-width="2.3" />
<text x="595.26" y="2012.34" text-anchor="start" font-size="31" >600</text>
<line x1="661.18" y1="1957.72" x2="668.63" y2="1962.76" stroke="#000" stroke-width="2.3" />
<text x="672.98" y="1994.82" text-anchor="start" font-size="31" >650</text>
<line x1="738.9" y1="1940.2" x2="746.35" y2="1945.24" stroke="#000" stroke-width="2.3" />
<text x="750.7" y="1977.3" text-anchor="start" font-size="31" >700</text>
<text x="432.4" y="1618.3" text-anchor="middle" font-size="31.8" >(g) Ag−r=80nm</text>
<text x="514" y="2072.6" text-anchor="start" font-size="31.45" >Wavelength (nm)</text>
<text x="3.3" y="2057" text-anchor="start" font-size="31.5" >Separation (nm)</text>
<text x="0" y="0" text-anchor="middle" font-size="31.5" transform="translate(47.6,1802.3) rotate(-90)">Enhancement factor</text>
<line x1="1066.46" y1="1856.35" x2="1066.46" y2="1710.35" class="g"/>
<line x1="1170.75" y1="1832.45" x2="1170.75" y2="1686.45" class="g"/>
<line x1="1266.42" y1="1810.52" x2="1266.42" y2="1664.52" class="g"/>
<line x1="1362.1" y1="1788.6" x2="1362.1" y2="1642.6" class="g"/>
<line x1="979.4" y1="1876.3" x2="1362.1" y2="1788.6" class="g"/>
<line x1="979.4" y1="1803.3" x2="1362.1" y2="1715.6" class="g"/>
<line x1="979.4" y1="1730.3" x2="1362.1" y2="1642.6" class="g"/>
<line x1="1417.3" y1="1826.22" x2="1417.3" y2="1680.22" class="g"/>
<line x1="1472.5" y1="1863.85" x2="1472.5" y2="1717.85" class="g"/>
<line x1="1527.7" y1="1901.47" x2="1527.7" y2="1755.47" class="g"/>
<line x1="1582.9" y1="1939.1" x2="1582.9" y2="1793.1" class="g"/>
<line x1="1362.1" y1="1788.6" x2="1582.9" y2="1939.1" class="g"/>
<line x1="1362.1" y1="1715.6" x2="1582.9" y2="1866.1" class="g"/>
<line x1="1362.1" y1="1642.6" x2="1582.9" y2="1793.1" class="g"/>
<line x1="979.4" y1="1876.3" x2="1200.2" y2="2026.8" class="g"/>
<line x1="1066.46" y1="1856.35" x2="1287.26" y2="2006.85" class="g"/>
<line x1="1170.75" y1="1832.45" x2="1391.55" y2="1982.95" class="g"/>
<line x1="1266.42" y1="1810.52" x2="1487.22" y2="1961.02" class="g"/>
<line x1="1582.9" y1="1939.1" x2="1362.1" y2="1788.6" class="g"/>
<line x1="979.4" y1="1876.3" x2="1362.1" y2="1788.6" class="g"/>
<line x1="1034.6" y1="1913.92" x2="1417.3" y2="1826.22" class="g"/>
<line x1="1089.8" y1="1951.55" x2="1472.5" y2="1863.85" class="g"/>
<line x1="1145" y1="1989.17" x2="1527.7" y2="1901.47" class="g"/>
<line x1="1200.2" y1="2026.8" x2="1582.9" y2="1939.1" class="g"/>
<path d="M979.4 1864.6l9.2-6.1 2.3-1.8 2.3-2 1.5-1.8 1.5-2.4 1.6-4.1 0.7-3.4 0.8-5.6 0.8-10.1 0.7-19.9 0.8-35.3 0.8-16.4 1.5 52.6 0.8 5.6 0.7-7.7 1.6-58.2 0.7 16.5 0.8 36.6 0.8 20.3 0.7 9.9 0.8 5.2 0.7 2.9 0.8 1.8 0.8 1 0.7 0.7 0.8 0.4 1.5 0.5 3.1 0 5.4-0.9 10.7-2.5 16-4.2 9.2-2.6 26.8-8 25.3-6.1 8.4-2.3 5.4-1.9 2.3-1.2 1.5-1.1 1.5-1.7 1.5-2.8 0.8-2.2 0.8-3.2 0.7-5 0.8-8.3 0.8-14 1.5-49.4 0.8 0.5 1.5 51.2 0.8 14.1 0.7 8.1 0.8 4.9 0.8 3 0.7 2 0.8 1.4 1.5 1.7 1.6 0.9 1.5 0.4 3 0.4 4.6-0.2 48.3-5.4 33.6-4.3 25.3-4.2 16.1-3.1 3.8-0.9 3.1-1 1.5-0.8 1.5-1.2 1.5-1.8 1.6-2.6 0.7-0.9 0.8-0.1 0.8 0.6 2.3 2.8 1.5 1 2.3 0.5 3.8 0 6.9-0.9 10.7-1.8 38.3-7.2 M990.4 1871.9l9.2-5.6 2.3-1.7 2.3-2 1.5-1.8 1.6-2.5 1.5-4.3 0.8-3.8 0.7-6.1 0.8-11 0.8-21.9 0.7-38.7 0.8-18 1.5 58 0.8 6.3 0.8-8.4 1.5-63.9 0.8 18.2 0.7 40.4 0.8 22.4 0.8 11 0.7 5.8 0.8 3.2 0.8 2 0.7 1.2 0.8 0.8 0.7 0.5 1.6 0.5 2.3 0.1 3-0.4 10.8-2.7 23.7-7 22.2-7.2 8.4-2.6 6.1-1.6 23-5.3 7.6-2 4.6-1.6 1.6-0.8 1.5-1.1 1.5-1.7 1.6-3 0.7-2.6 0.8-3.9 0.7-6.5 0.8-11 1.5-38.3 0.8 0.7 1.5 40.5 0.8 11.2 0.8 6.4 0.7 3.7 0.8 2.4 0.8 1.6 0.7 1 1.6 1.3 1.5 0.6 1.5 0.4 3.1 0.1 3.8-0.3 13-1.7 38.3-4.5 32.1-4.5 26.1-4.3 15.3-3 6.1-1.6 1.5-0.7 1.6-1 1.5-1.7 2.3-2.9 0.8-0.1 0.7 0.5 2.3 2.3 1.5 0.8 2.3 0.4 3.9-0.2 6.9-0.8 10.7-1.8 38.2-7.1 M1001.5 1879.1l9.2-5.1 2.3-1.5 2.3-2 1.5-1.9 1.5-2.6 0.8-2 0.7-2.7 0.8-4.1 0.8-6.8 0.7-12.2 0.8-24.3 0.8-43.1 0.7-20 1.6 64.8 0.7 7.2 0.8-9.3 1.5-71.2 0.8 20.4 0.8 45.1 0.7 25.1 0.8 12.3 0.8 6.5 0.7 3.7 0.8 2.2 0.8 1.4 0.7 0.9 1.6 1 1.5 0.4 2.3 0 2.3-0.4 8.4-2.2 27.6-9.1 21.4-7.5 8.4-2.7 6.9-1.7 29.8-6.8 3.9-1.2 3-1.5 1.6-1.2 1.5-2.3 0.8-1.9 0.7-2.9 0.8-4.8 0.8-8 1.5-27.8 0.7 0.9 1.6 30.4 0.7 8.4 0.8 4.6 0.8 2.8 0.7 1.7 0.8 1.1 1.5 1.3 1.6 0.6 1.5 0.3 3.1 0.1 3.8-0.4 14.5-2.2 39.8-5 31.4-4.7 26.8-4.5 13-2.5 6.1-1.5 1.6-0.7 1.5-0.9 1.5-1.4 2.3-2.5 0.8-0.1 3.1 2.3 1.5 0.6 2.3 0.3 3.8-0.2 6.9-0.9 10.7-1.7 38.3-7 M1012.5 1886.6l9.2-4.3 3.1-1.8 2.3-1.8 1.5-1.6 1.5-2.5 0.8-1.8 0.8-2.7 0.7-4.1 0.8-7.1 0.8-13.5 1.5-59.7 0.7 10.7 0.8 26.9 0.8 8.4 0.7-10.3 0.8-29.5 0.8-12.1 1.5 61.5 0.8 13.5 0.7 6.8 0.8 3.8 0.8 2.2 0.7 1.3 0.8 0.9 1.5 0.9 1.6 0.2 2.3-0.1 2.3-0.4 6.8-2.1 47.5-17.8 11.5-3.9 5.3-1.5 6.9-1.6 27.6-5.9 3-0.8 2.3-1.1 1.6-1.2 1.5-2.2 0.8-2.1 0.7-3.3 0.8-5.5 1.5-18.6 0.8 1 1.5 21.8 0.8 5.9 0.8 3.2 0.7 1.9 0.8 1.2 0.7 0.7 0.8 0.5 1.5 0.5 2.3 0.3 6.2-0.5 15.3-2.5 45.9-6.3 31.4-5 26.8-4.7 9.1-1.8 4.6-1.2 1.6-0.7 1.5-1 3.1-2.9 0.7-0.1 3.1 1.9 1.5 0.5 2.3 0.2 3.8-0.2 7.7-1 10.7-1.7 37.5-6.7 M1023.6 1893.9l8.4-3.4 3-1.6 2.3-1.6 1.6-1.4 1.5-1.9 1.5-3.3 0.8-2.7 0.8-4.2 0.7-6.9 0.8-12.8 0.8-25.4 0.7-39.7 0.8-3.8 0.8 30.8 0.7 11.3 0.8-13.7 0.7-33.5 0.8 3.1 0.8 41 0.7 26.2 0.8 12.8 0.8 6.7 0.7 3.8 0.8 2.2 0.8 1.5 0.7 0.9 1.6 1 1.5 0.4 2.3-0.1 2.3-0.4 6.9-2.1 23.7-10 20.7-8.2 7.6-3 6.9-2.3 6.1-1.8 10.8-2.4 25.2-4.9 3.8-1.3 1.6-1 0.7-0.9 0.8-1.3 0.8-2.2 0.7-3.4 1.6-11.2 0.7 1.2 1.6 14.9 0.7 3.9 0.8 2 0.8 1.2 1.5 1.1 2.3 0.6 2.3 0 6.1-0.7 18.4-3.2 29.1-4.1 14.5-2.3 32.9-5.5 28.3-5 6.9-1.3 3.8-1.1 2.3-1.2 3.1-2.6 0.8-0.1 3 1.6 1.6 0.4 3 0.1 3.9-0.4 19.1-2.8 36-6.3 M1034.6 1901.4l6.1-1.8 4.6-1.6 3.1-1.3 2.3-1.3 1.5-1.3 1.5-1.9 0.8-1.5 0.8-2 0.7-3.2 0.8-5.1 0.8-9.4 0.7-18.8 1.6-67.4 1.5 66.5 0.8 18.3 0.7 9 0.8 4.7 0.8 2.7 0.7 1.6 0.8 1 0.7 0.6 0.8 0.4 1.5 0.3 2.3-0.1 3.1-0.6 3.1-0.9 3.8-1.4 6.9-3.1 19.9-9.5 22.2-9.5 10.7-4 6.9-2.1 10.7-2.4 11.5-2.2 13.8-2.2 3.8-1 1.5-0.7 0.8-0.7 0.7-0.9 0.8-1.6 0.8-2.3 1.5-7.2 0.8 1.3 1.5 11.4 0.8 2.9 0.7 1.4 0.8 0.8 0.8 0.5 1.5 0.5 3.1 0 6.1-0.8 19.9-3.6 39-6 67.4-11.7 5.3-1.1 3.1-0.9 2.3-1 3-2.2 0.8-0.1 3.1 1.2 1.5 0.3 3.1 0 3.8-0.3 19.9-2.9 35.2-6.1 M1045.6 1909.8l10.8-3.3 3-1.3 2.3-1.3 1.5-1.2 1.6-1.8 1.5-3.2 0.8-2.9 0.7-4.7 0.8-8.7 0.8-17.2 1.5-61.7 1.5 60.8 0.8 16.8 0.8 8.2 0.7 4.2 0.8 2.5 0.8 1.4 0.7 0.9 0.8 0.6 0.8 0.3 1.5 0.3 2.3-0.2 3-0.6 6.9-2.4 6.9-3 19.9-9.6 23-10 10.7-4.1 6.1-1.7 10-2.3 11.5-2.3 15.3-2.6 3.8-1.1 1.5-1 0.8-0.8 0.7-1.4 0.8-2 1.5-6.1 0.8 1.3 1.5 10.3 0.8 2.6 0.8 1.2 0.7 0.7 0.8 0.4 1.5 0.4 3.1 0 6.1-0.9 19.2-3.5 41.3-6.5 65.8-11.4 5.4-1.1 3-0.8 2.3-1 3.1-1.9 0.8-0.1 3 1 1.5 0.2 3.1-0.1 3.8-0.4 19.9-3 35.2-6.1 M1056.7 1918.2l9.9-2.9 3.9-1.4 2.3-1.1 1.5-1 1.5-1.4 1.5-2.5 0.8-2.2 0.8-3.5 0.7-6.3 0.8-12.6 1.5-45.1 1.6 44.2 0.7 12.1 0.8 5.9 0.8 3.1 0.7 1.7 0.8 1 0.8 0.6 0.7 0.3 1.6 0.2 2.3-0.1 3-0.7 3.8-1.2 3.9-1.5 6.9-3.1 19.9-9.6 23.7-10.5 9.9-3.8 6.2-1.8 9.1-2.1 12.3-2.5 15.3-2.7 3.8-1.1 1.6-0.9 0.7-0.8 0.8-1.2 0.8-1.7 1.5-5.2 0.7 1.3 1.6 9.4 0.7 2.3 0.8 1.1 1.5 0.9 1.6 0.3 3 0 6.2-0.9 18.3-3.4 43.7-7.1 65-11.3 5.4-1.1 3-0.8 1.6-0.6 3-1.8 0.8-0.1 3.1 0.8 1.5 0.1 3-0.1 3.9-0.5 19.9-3.1 35.2-6 M1067.7 1926.7l10-2.9 6.1-2.3 1.5-0.8 1.6-1.1 1.5-1.9 0.8-1.7 0.7-2.6 0.8-4.6 0.7-9.1 1.6-32.6 1.5 31.7 0.8 8.7 0.7 4.1 0.8 2.2 0.8 1.2 0.7 0.6 0.8 0.4 2.3 0.2 2.3-0.4 3.8-0.9 7.7-2.9 6.9-3.2 19.1-9.3 23.7-10.7 10-3.9 6.1-1.8 8.4-1.9 13-2.7 15.3-2.9 3.9-1 1.5-0.8 0.8-0.7 0.7-1.2 0.8-1.5 1.5-4.3 0.8 1.3 1.5 8.5 0.8 2.1 0.8 1 1.5 0.8 1.5 0.2 3.1-0.1 6.1-0.9 18.4-3.4 45.9-7.6 62.8-10.9 5.3-1 3.1-0.8 1.5-0.6 3.1-1.6 0.7-0.1 3.1 0.6 1.5 0 6.1-0.6 18.4-2.9 37.5-6.4 M1078.8 1935.1l9.9-2.8 6.1-2.1 3.1-1.7 1.5-1.5 0.8-1.2 0.8-1.9 0.7-3.4 0.8-6.7 1.5-23.7 1.5 22.8 0.8 6.2 0.8 3 0.7 1.5 0.8 0.7 1.5 0.6 2.3 0 3.1-0.7 3.1-0.8 7.6-3 6.9-3.1 16.8-8.3 23.8-10.9 6.9-3 5.3-2 5.4-1.7 6.9-1.6 13.7-3 16.9-3.2 3.8-1 1.5-0.8 0.8-0.7 0.8-1 0.7-1.3 1.6-3.5 0.7 1.3 1.6 7.7 0.7 1.9 0.8 0.8 1.5 0.8 1.6 0.1 3-0.1 6.1-0.9 16.1-3.1 45.2-7.6 65.8-11.4 8.4-1.8 4.6-1.9 0.8-0.2 4.6 0.4 6.1-0.7 55.9-9.4 M1089.8 1943.5l10-2.7 6.1-2 3-1.4 1.6-1.2 0.7-1 0.8-1.4 0.8-2.5 0.7-4.8 1.6-17.1 1.5 16.2 0.8 4.3 0.7 2.1 0.8 1 0.8 0.5 0.7 0.2 2.3-0.1 3.1-0.6 3.8-1.2 8.4-3.3 6.9-3.2 16.1-7.8 9.9-4.6 14.6-6.9 6.1-2.7 5.4-2.1 4.5-1.5 4.6-1.1 16.1-3.5 17.6-3.5 3.8-1.1 1.6-0.7 0.7-0.6 1.6-2 1.5-3 0.8 1.4 1.5 7.1 0.8 1.7 0.7 0.7 1.6 0.6 1.5 0.1 3.1-0.2 6.1-0.9 17.6-3.4 110.2-19 7.7-1.6 4.5-1.7 0.8-0.2 4.6 0.2 5.4-0.6 56.6-9.7 M1100.8 1951.7l10-2.6 6.1-1.9 3.1-1.3 1.5-0.9 0.8-0.8 0.7-1.1 0.8-1.8 0.8-3.4 1.5-12.2 1.5 11.3 0.8 3 0.8 1.4 0.7 0.6 1.6 0.4 1.5-0.1 2.3-0.5 6.9-2 7.6-3 46.7-21.2 6.1-2.6 5.4-2 7.6-2.2 16.9-3.7 18.4-3.8 3.8-1.1 2.3-1.2 1.5-1.9 1.5-2.6 0.8 1.2 1.5 6.2 0.8 1.4 0.8 0.7 1.5 0.5 1.5 0 3.1-0.2 5.4-0.8 15.3-3.1 22.9-4.1 90.3-16 7.7-1.6 4.6-1.6 5.3-0.1 5.4-0.7 56.6-9.9 M1111.9 1960l16.1-4.5 3-1.1 2.3-1.4 0.8-0.9 0.7-1.3 0.8-2.6 1.5-9 1.6 8.1 0.7 2.2 0.8 0.9 0.8 0.4 1.5 0.2 4.6-0.9 6.9-2.1 7.6-2.9 46.7-20.1 10.7-4.1 7.7-2.2 34.4-7.6 4.6-1.2 2.3-1.2 1.6-1.7 1.5-2.4 0.7 1 1.6 5.4 0.7 1.3 0.8 0.5 1.5 0.4 1.6 0.1 3-0.3 59-11.2 75.7-13.6 6.9-1.5 4.6-1.5 5.4-0.3 5.3-0.7 56.7-10.1 M1122.9 1968.3l16.1-4.5 3.1-1.1 2.3-1.2 0.7-0.7 0.8-1.2 0.7-2.1 1.6-7.3 1.5 6.5 0.8 1.7 0.7 0.7 0.8 0.3 1.5 0 4.6-0.9 6.9-2 8.4-3.1 46.7-19.1 10-3.6 6.9-2 34.4-7.7 5.4-1.4 1.5-0.6 1.5-1.2 2.3-3.1 0.8 0.8 1.5 4.6 0.8 1.1 0.8 0.5 1.5 0.3 4.6-0.4 62-12.1 73.4-13.5 6.2-1.3 4.6-1.4 5.3-0.4 5.4-0.8 56.6-10.3 M1134 1976.5l16-4.4 3.1-1 2.3-1.1 1.5-1.5 0.8-1.6 1.5-5.6 1.5 4.7 0.8 1.3 0.8 0.5 1.5 0.2 1.5-0.2 5.4-1.3 6.9-2.1 8.4-2.9 29.1-11.1 16.8-6.7 9.2-3.2 6.9-1.9 33.7-7.7 6.1-1.6 1.5-0.7 1.6-1.1 2.3-2.9 0.7 0.6 1.6 4 0.7 0.9 0.8 0.4 1.5 0.2 4.6-0.4 63.5-12.8 72.8-13.7 5.3-1.1 4.6-1.4 5.4-0.5 5.3-0.8 56.7-10.6 M1145 1984.8l16.1-4.4 5.3-1.9 1.6-1.1 0.7-1.2 1.6-3.9 1.5 3.1 0.8 0.8 0.7 0.3 1.6 0 1.5-0.3 7.6-1.9 6.9-2.1 8.4-2.8 26.8-9.6 17.6-6.6 8.5-2.9 6.1-1.7 32.1-7.4 8.4-2.2 1.6-0.7 1.5-1 2.3-2.8 0.8 0.4 1.5 3.3 0.8 0.8 0.7 0.3 1.6 0.1 4.6-0.5 64.2-13.3 72.8-13.9 5.3-1.2 3.8-1.1 5.4-0.6 5.4-0.9 56.6-10.8 M1156 1992.7l16.1-4.2 5.4-1.8 1.5-0.9 0.8-1 1.5-3.1 1.5 2.3 0.8 0.6 0.8 0.1 3-0.3 8.4-2.2 15.3-4.8 26.1-8.7 17.6-6.1 8.4-2.7 6.9-1.9 32.1-7.5 7.7-2 1.5-0.6 1.5-1 2.3-2.6 0.8 0.3 1.5 2.9 0.8 0.6 0.8 0.3 1.5 0.1 4.6-0.7 62-13 74.2-14.5 5.4-1.2 4.6-1.2 5.3-0.7 6.2-1 55.8-10.9 M1167.1 2000.7l16.1-4.2 5.3-1.6 1.5-0.8 0.8-0.8 1.5-2.3 1.6 1.6 0.7 0.3 0.8 0.1 2.3-0.3 4.6-1.1 17.6-5.1 54.3-17.1 6.9-1.8 39.1-9.4 2.3-0.8 1.5-0.9 2.3-2.4 0.7 0.2 1.6 2.4 0.7 0.5 2.3 0.3 3.9-0.6 63.5-13.5 74.2-14.8 9.2-2.2 6.1-0.8 7.7-1.4 53.6-10.6 M1178.1 2008.7l16.1-4.1 5.4-1.6 1.5-0.8 0.7-0.7 1.6-2.1 1.5 1.4 0.8 0.2 2.3-0.1 3.8-0.9 18.4-4.9 55.8-16.4 45.2-11 2.3-0.7 1.5-0.9 2.3-2.3 0.8 0.1 1.5 2 0.8 0.5 2.3 0.1 3.8-0.6 64.3-14 74.2-15 8.5-2 6.9-1 11.4-2.2 49-9.8 M1189.2 2016.6l16-4 5.4-1.6 1.5-0.8 0.8-0.8 1.5-2.3 1.5 1.6 0.8 0.3 0.8 0.1 2.3-0.3 5.3-1.2 72-19.3 45.1-11.1 2.3-0.7 1.6-0.8 0.7-0.5 1.6-1.7 0.7 0 1.6 1.6 0.7 0.3 2.3 0.1 3.1-0.5 50.5-11.2 29.8-6.4 59.8-12.2 7.6-1.8 6.9-1.1 15.3-2.9 45.2-9.3 M1200.2 2024.6l16.1-4 5.3-1.6 1.6-0.8 0.7-0.8 1.6-2.5 1.5 1.7 0.8 0.4 2.3 0 3.8-0.8 118.6-29.2 3.1-1 1.5-0.7 0.8-0.5 1.5-1.7 0.8-0.1 1.5 1.3 0.8 0.2 1.5 0 3.1-0.4 43.6-9.8 48.2-10.5 49.8-10.3 6.8-1.6 7.7-1.3 16.8-3.3 42.9-8.9" class="c"/>
<line x1="979.4" y1="1876.3" x2="979.4" y2="1730.3" stroke="#000" stroke-width="2.3" />
<line x1="979.4" y1="1876.3" x2="1200.2" y2="2026.8" stroke="#000" stroke-width="2.3" />
<line x1="1200.2" y1="2026.8" x2="1582.9" y2="1939.1" stroke="#000" stroke-width="2.3" />
<line x1="979.4" y1="1876.3" x2="971.96" y2="1871.23" stroke="#000" stroke-width="2.3" />
<text x="966.7" y="1881.2" text-anchor="end" font-size="31" >0</text>
<line x1="979.4" y1="1803.3" x2="971.96" y2="1798.23" stroke="#000" stroke-width="2.3" />
<text x="966.7" y="1808.2" text-anchor="end" font-size="31" >0.5</text>
<line x1="979.4" y1="1730.3" x2="971.96" y2="1725.23" stroke="#000" stroke-width="2.3" />
<text x="966.7" y="1735.2" text-anchor="end" font-size="31" >1</text>
<line x1="979.4" y1="1876.3" x2="970.63" y2="1878.31" stroke="#000" stroke-width="2.3" />
<text x="965.6" y="1908.6" text-anchor="end" font-size="31" >1</text>
<line x1="1034.6" y1="1913.92" x2="1025.83" y2="1915.94" stroke="#000" stroke-width="2.3" />
<text x="1020.8" y="1946.22" text-anchor="end" font-size="31" >1.5</text>
<line x1="1089.8" y1="1951.55" x2="1081.03" y2="1953.56" stroke="#000" stroke-width="2.3" />
<text x="1076" y="1983.85" text-anchor="end" font-size="31" >2.0</text>
<line x1="1145" y1="1989.17" x2="1136.23" y2="1991.19" stroke="#000" stroke-width="2.3" />
<text x="1131.2" y="2021.47" text-anchor="end" font-size="31" >2.5</text>
<line x1="1200.2" y1="2026.8" x2="1191.43" y2="2028.81" stroke="#000" stroke-width="2.3" />
<text x="1186.4" y="2059.1" text-anchor="end" font-size="31" >3.0</text>
<line x1="1200.2" y1="2026.8" x2="1207.64" y2="2031.87" stroke="#000" stroke-width="2.3" />
<text x="1212" y="2063.9" text-anchor="start" font-size="31" >500</text>
<line x1="1287.26" y1="2006.85" x2="1294.7" y2="2011.92" stroke="#000" stroke-width="2.3" />
<text x="1299.06" y="2043.95" text-anchor="start" font-size="31" >525</text>
<line x1="1391.55" y1="1982.95" x2="1398.99" y2="1988.02" stroke="#000" stroke-width="2.3" />
<text x="1403.35" y="2020.05" text-anchor="start" font-size="31" >550</text>
<line x1="1487.22" y1="1961.02" x2="1494.66" y2="1966.09" stroke="#000" stroke-width="2.3" />
<text x="1499.02" y="1998.12" text-anchor="start" font-size="31" >575</text>
<line x1="1582.9" y1="1939.1" x2="1590.34" y2="1944.17" stroke="#000" stroke-width="2.3" />
<text x="1594.7" y="1976.2" text-anchor="start" font-size="31" >600</text>
<text x="1281.2" y="1618.5" text-anchor="middle" font-size="31.8" >(h) Ag−r=80nm</text>
<text x="1361.5" y="2072" text-anchor="start" font-size="31.45" >Wavelength (nm)</text>
<text x="855" y="2056.5" text-anchor="start" font-size="31.5" >Separation (nm)</text>
<text x="0" y="0" text-anchor="middle" font-size="31.6" transform="translate(911.2,1803.7) rotate(-90)">scattering cross section</text>
<text x="980.5" y="1694.9" font-size="31">x 10<tspan font-size="20.5" dx="1" dy="-19.4">−14</tspan></text>
</svg></body></html>
